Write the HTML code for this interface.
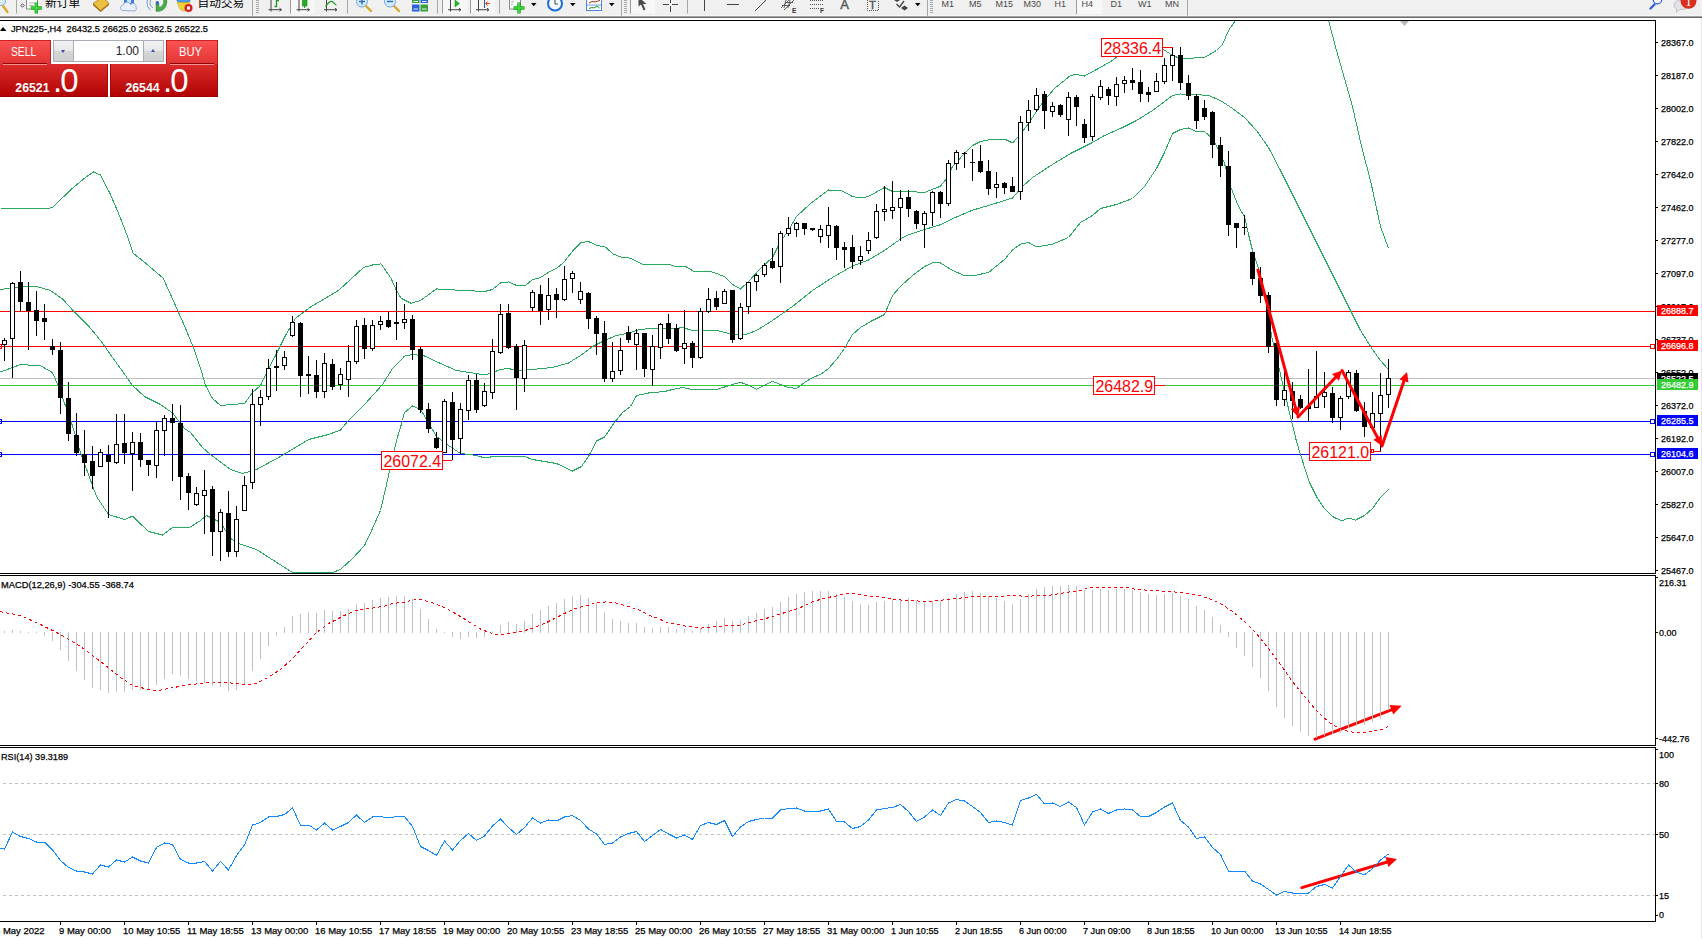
<!DOCTYPE html>
<html><head><meta charset="utf-8"><title>JPN225 H4</title>
<style>
html,body{margin:0;padding:0;background:#fff}
body{width:1702px;height:939px;overflow:hidden;position:relative;font-family:"Liberation Sans","Noto Sans CJK SC",sans-serif}
#tb{position:absolute;left:0;top:0;width:1702px;height:16px;background:linear-gradient(#f0f0f0 0,#f0f0f0 15px,#f7f7f7 15px,#f7f7f7 16px);overflow:hidden;border-bottom:1px solid #a3a3a3}
#tb2{position:absolute;left:0;top:17px;width:1702px;height:1px;background:#6a6a6a}
#tb span.t{position:absolute;font-size:9px;color:#4a4a4a;top:-1.5px;white-space:pre}
#tb span.c{position:absolute;font-size:11.7px;color:#000;white-space:pre;top:-4.5px;line-height:14px}
#tb i{position:absolute;display:block}
#oc{position:absolute;left:0;top:40px;width:218px;height:57px;background:#fff}
#oc div{position:absolute}
#oc .r{background:linear-gradient(#fa5252,#e23434);color:#fff;box-sizing:border-box;border-top:1px solid #cc2222}
#oc .p{background:linear-gradient(#dc2c2c,#b20404);color:#fff;box-sizing:border-box;border-bottom:1px solid #a00000}

</style></head><body>
<svg width="1702" height="939" viewBox="0 0 1702 939" style="position:absolute;left:0;top:0" font-family="'Liberation Sans', sans-serif"><defs><clipPath id="cm"><rect x="0" y="21" width="1655" height="552"/></clipPath></defs>
<g shape-rendering="crispEdges">
<rect x="0" y="311" width="1655" height="1" fill="#ff0000"/>
<rect x="0" y="346" width="1655" height="1" fill="#ff0000"/>
<rect x="0" y="378" width="1655" height="1" fill="#c0c0c0"/>
<rect x="0" y="385" width="1655" height="1" fill="#32cd32"/>
<rect x="0" y="421" width="1655" height="1" fill="#0000ff"/>
<rect x="0" y="454" width="1655" height="1" fill="#0000ff"/>
</g>
<g clip-path="url(#cm)" shape-rendering="crispEdges">
<polyline points="0.5,208.5 47.5,208.5 52.5,207.5 70.5,190 85.5,177.5 93.5,172 100.5,175 110.5,194.5 120.5,218.1 128.1,238.1 133.1,253.1 145.5,263.1 163.2,278.2 175.5,305.5 185.5,328.2 194.5,350.5 200.5,368.2 205.5,385.5 212.5,398.5 220.5,405.5 232.5,404.5 244.5,403.5 252.5,392.5 260.5,385.5 268.5,368.5 275.5,355.5 285.5,335.5 295.5,318.2 310.5,306.9 325.5,298.2 338.5,290.5 350.5,279.5 363.5,267.5 372.5,265 381,263.9 391,278.1 396.5,290.5 401,298.2 411,303.2 420.5,300.5 436.5,288.9 456.5,290.1 484.5,291.5 492.5,289.5 500.5,282.9 508.5,281.9 516.5,285.5 525.2,285.7 532.3,279.8 540.5,277.5 548.7,272.2 556.9,268.1 564,262.2 572.2,251.5 581,242.5 588.5,241.5 596.9,245.5 605.1,246.9 613.3,254 620.5,256.9 629.8,258.1 643.9,264.9 670.9,264.9 676.8,266.9 686.2,266.9 693.2,271 703.8,271 712.5,272.1 724.5,276.5 732.5,284.5 740.5,289 748.5,281.5 760.5,268.5 772.5,257.5 780.5,241.5 788.5,230.5 796.5,216.5 810.5,203.5 828.5,190 840.5,190.2 852.5,196.5 860.5,198 868.5,196.5 884.5,187.5 892.5,191.5 908.5,191.5 924.5,192.5 940.5,186.2 946.5,178.5 952.5,166.5 964.5,153.5 972.5,145.5 980.5,141.5 992.5,139.1 1004.5,139.1 1012.5,142.9 1020.5,134.5 1030.5,120.5 1042.5,102.5 1054.5,88.5 1070.5,75.5 1076.5,74.5 1084.5,76 1096.5,69.5 1112.5,60.5 1124.5,50.5 1136.5,45.5 1148.5,44 1156.5,45.5 1164.5,50.1 1172.5,55.5 1180.5,58.5 1192.5,58.1 1204.5,57.5 1216.5,50.5 1222.5,44.5 1228.5,30.5 1235.5,20.5" fill="none" stroke="#27aa5f" stroke-width="1"/>
<polyline points="1328.5,20.5 1336.5,50.5 1352.5,106.5 1362.5,150.5 1370.5,180.5 1380.5,226.5 1388.5,248.5" fill="none" stroke="#27aa5f" stroke-width="1"/>
<polyline points="0.5,289.5 20.5,286.9 38,286.9 50.5,290.5 63.1,299.5 75.5,313.2 88.1,325.5 100.5,340.5 113.1,358.3 120.5,368.5 132.5,385.5 144.5,396.5 160.5,404.5 172.5,413 184.5,428.5 190.5,432.5 202.5,447.5 210.5,454.5 230.5,469.5 242.5,473.5 256.5,469.5 280.5,456.5 308.5,439.5 328.5,434.5 340.5,430 348.5,420.5 364.5,404.5 382.5,384.5 392.5,368.5 404.5,356.2 412.5,354.5 424.5,356 440.5,363.5 456.5,370.5 472.5,373 484.5,375 492.5,372.5 500.5,369.5 508.5,368.5 516.5,370.5 532.5,369.5 552.5,367.5 568.5,363 580.5,355.5 592.5,346.5 604.5,340.5 616.5,335.5 628.5,333 640.5,329.2 656.5,328.5 676.5,328.5 682.5,327.5 692.5,330.5 716.5,330.5 732.5,334.2 744.5,335 756.5,330.5 772.5,320.5 792.5,306.5 812.5,290.5 832.5,277.5 852.5,266 868.5,260 884.5,250.5 900.5,239 908.5,234.8 924.5,229.5 940.5,224.7 956.5,217 972.5,210.2 988.5,205.5 1012.5,198 1022.5,186.5 1032.5,177.5 1052.5,164.5 1072.5,152.5 1092.5,142.5 1104.5,135.5 1120.5,128.5 1136.5,120.5 1152.5,110.5 1164.5,101.5 1172.5,95.5 1180.5,94 1192.5,94.2 1208.5,95.5 1220.5,100.5 1232.5,108.5 1244.5,117.5 1256.5,130.5 1268.5,147.5 1280.5,170.5 1292.5,194.5 1308.5,226.5 1324.5,258.5 1340.5,290.5 1352.5,314.5 1360.5,330.5 1372.5,349.5 1380.5,360.5 1388.5,369.5" fill="none" stroke="#27aa5f" stroke-width="1"/>
<polyline points="0.5,372 20.5,364.5 40.5,365.8 52.5,372.5 58.5,386.5 66.5,408.5 70.5,419.5 80.5,452.5 88.5,474.5 96.5,496.5 108.5,514.5 124.5,519.5 132.5,516.2 148.5,531.5 162.5,535 172.5,527.5 190.5,527 200.5,520.5 206.5,515.5 220.5,522.5 230.5,538.5 240.5,544.2 256.5,549.5 270.5,558.5 292.5,572.5 332.5,572.5 340.5,569.5 352.5,558.5 364.5,545.5 372.5,528.5 380.5,510.5 386.5,484.5 390.5,466.5 396.5,440.5 402.5,420.5 404.5,412.5 412.5,406 420.5,409.5 428.5,422.5 436.5,436.5 448.5,445.5 460.5,453.5 476.5,455.5 484.5,457.9 496.5,456.1 524.5,456.5 532.5,459.5 556.5,463.5 572.5,471 581.5,466.5 588.5,456.5 596.5,441 604.5,437 614.5,422.5 622.5,412.5 630.5,406.5 636.5,395.5 648.5,393 664.5,391.5 672.5,389.5 682.5,387.5 692.5,389.5 716.5,389.5 732.5,384.5 740.5,382.3 748.5,385.1 756.5,389.1 764.5,385.5 772.5,381.3 780.5,384.5 788.5,387.5 796.5,388.5 804.5,382.5 812.5,377.5 820.5,374.5 828.5,368.5 836.5,359.5 844.5,348.5 852.5,334.5 860.5,327.5 872.5,320.5 884.5,314.5 892.5,295.5 900.5,286.5 912.5,275.5 924.5,266.5 932.5,262.8 940.5,263 952.5,270.5 964.5,275.5 976.5,275.1 988.5,272.5 1004.5,259.5 1012.5,250 1020.5,244.2 1028.5,242.5 1036.5,247 1052.5,244.2 1068.5,237.5 1080.5,222.5 1092.5,215.5 1100.5,208.5 1116.5,204.5 1132.5,198.5 1144.5,186.5 1156.5,168.5 1164.5,152.5 1172.5,133.5 1180.5,129.5 1188.5,128 1196.5,131.5 1204.5,131.5 1212.5,138.5 1216.5,145.5 1224.5,163.5 1230.5,186.5 1238.5,206.5 1244.5,216.5 1248.5,234.5 1252.5,250.5 1258.5,268.5 1266.5,304.5 1271.5,335.5 1280.5,374.5 1288.5,408.5 1296.5,441.5 1300.5,454.5 1305.5,470.5 1309.5,482.5 1317.5,498.5 1324.5,508.5 1332.5,516.5 1341.5,520.9 1346.5,518.8 1351.5,518.8 1355.5,520.1 1364.5,515.5 1372.5,508.5 1380.5,497.5 1388.5,489.5" fill="none" stroke="#27aa5f" stroke-width="1"/>
</g>
<g shape-rendering="crispEdges">
<rect x="4" y="338" width="1" height="23" fill="#000"/>
<rect x="2" y="340" width="5" height="5" fill="#000"/>
<rect x="3" y="341" width="3" height="3" fill="#fff"/>
<rect x="12" y="282" width="1" height="96" fill="#000"/>
<rect x="10" y="283" width="5" height="56" fill="#000"/>
<rect x="11" y="284" width="3" height="54" fill="#fff"/>
<rect x="20" y="271" width="1" height="41" fill="#000"/>
<rect x="18" y="282" width="5" height="20" fill="#000"/>
<rect x="28" y="282" width="1" height="68" fill="#000"/>
<rect x="26" y="302" width="5" height="9" fill="#000"/>
<rect x="36" y="291" width="1" height="45" fill="#000"/>
<rect x="34" y="310" width="5" height="11" fill="#000"/>
<rect x="44" y="304" width="1" height="36" fill="#000"/>
<rect x="42" y="318" width="5" height="4" fill="#000"/>
<rect x="52" y="339" width="1" height="16" fill="#000"/>
<rect x="50" y="346" width="5" height="4" fill="#000"/>
<rect x="60" y="342" width="1" height="72" fill="#000"/>
<rect x="58" y="350" width="5" height="48" fill="#000"/>
<rect x="68" y="382" width="1" height="59" fill="#000"/>
<rect x="66" y="398" width="5" height="36" fill="#000"/>
<rect x="76" y="413" width="1" height="43" fill="#000"/>
<rect x="74" y="435" width="5" height="18" fill="#000"/>
<rect x="84" y="430" width="1" height="46" fill="#000"/>
<rect x="82" y="454" width="5" height="9" fill="#000"/>
<rect x="92" y="446" width="1" height="43" fill="#000"/>
<rect x="90" y="461" width="5" height="15" fill="#000"/>
<rect x="100" y="449" width="1" height="18" fill="#000"/>
<rect x="98" y="452" width="5" height="15" fill="#000"/>
<rect x="99" y="453" width="3" height="13" fill="#fff"/>
<rect x="108" y="445" width="1" height="73" fill="#000"/>
<rect x="106" y="455" width="5" height="7" fill="#000"/>
<rect x="116" y="414" width="1" height="50" fill="#000"/>
<rect x="114" y="444" width="5" height="19" fill="#000"/>
<rect x="115" y="445" width="3" height="17" fill="#fff"/>
<rect x="124" y="414" width="1" height="50" fill="#000"/>
<rect x="122" y="443" width="5" height="10" fill="#000"/>
<rect x="132" y="432" width="1" height="59" fill="#000"/>
<rect x="130" y="442" width="5" height="12" fill="#000"/>
<rect x="131" y="443" width="3" height="10" fill="#fff"/>
<rect x="140" y="433" width="1" height="34" fill="#000"/>
<rect x="138" y="442" width="5" height="18" fill="#000"/>
<rect x="148" y="460" width="1" height="16" fill="#000"/>
<rect x="146" y="460" width="5" height="5" fill="#000"/>
<rect x="156" y="421" width="1" height="57" fill="#000"/>
<rect x="154" y="430" width="5" height="36" fill="#000"/>
<rect x="155" y="431" width="3" height="34" fill="#fff"/>
<rect x="164" y="415" width="1" height="41" fill="#000"/>
<rect x="162" y="418" width="5" height="13" fill="#000"/>
<rect x="163" y="419" width="3" height="11" fill="#fff"/>
<rect x="172" y="404" width="1" height="77" fill="#000"/>
<rect x="170" y="418" width="5" height="5" fill="#000"/>
<rect x="180" y="405" width="1" height="95" fill="#000"/>
<rect x="178" y="423" width="5" height="54" fill="#000"/>
<rect x="188" y="473" width="1" height="37" fill="#000"/>
<rect x="186" y="476" width="5" height="17" fill="#000"/>
<rect x="196" y="487" width="1" height="19" fill="#000"/>
<rect x="194" y="493" width="5" height="12" fill="#000"/>
<rect x="195" y="494" width="3" height="10" fill="#fff"/>
<rect x="204" y="470" width="1" height="64" fill="#000"/>
<rect x="202" y="490" width="5" height="6" fill="#000"/>
<rect x="203" y="491" width="3" height="4" fill="#fff"/>
<rect x="212" y="486" width="1" height="70" fill="#000"/>
<rect x="210" y="489" width="5" height="43" fill="#000"/>
<rect x="220" y="509" width="1" height="52" fill="#000"/>
<rect x="218" y="512" width="5" height="20" fill="#000"/>
<rect x="219" y="513" width="3" height="18" fill="#fff"/>
<rect x="228" y="491" width="1" height="66" fill="#000"/>
<rect x="226" y="513" width="5" height="39" fill="#000"/>
<rect x="236" y="506" width="1" height="51" fill="#000"/>
<rect x="234" y="519" width="5" height="33" fill="#000"/>
<rect x="235" y="520" width="3" height="31" fill="#fff"/>
<rect x="244" y="476" width="1" height="35" fill="#000"/>
<rect x="242" y="485" width="5" height="26" fill="#000"/>
<rect x="243" y="486" width="3" height="24" fill="#fff"/>
<rect x="252" y="389" width="1" height="100" fill="#000"/>
<rect x="250" y="404" width="5" height="79" fill="#000"/>
<rect x="251" y="405" width="3" height="77" fill="#fff"/>
<rect x="260" y="390" width="1" height="36" fill="#000"/>
<rect x="258" y="397" width="5" height="8" fill="#000"/>
<rect x="259" y="398" width="3" height="6" fill="#fff"/>
<rect x="268" y="359" width="1" height="41" fill="#000"/>
<rect x="266" y="368" width="5" height="29" fill="#000"/>
<rect x="267" y="369" width="3" height="27" fill="#fff"/>
<rect x="276" y="350" width="1" height="41" fill="#000"/>
<rect x="274" y="366" width="5" height="2" fill="#000"/>
<rect x="284" y="351" width="1" height="19" fill="#000"/>
<rect x="282" y="357" width="5" height="9" fill="#000"/>
<rect x="283" y="358" width="3" height="7" fill="#fff"/>
<rect x="292" y="316" width="1" height="21" fill="#000"/>
<rect x="290" y="322" width="5" height="14" fill="#000"/>
<rect x="291" y="323" width="3" height="12" fill="#fff"/>
<rect x="300" y="322" width="1" height="75" fill="#000"/>
<rect x="298" y="323" width="5" height="53" fill="#000"/>
<rect x="308" y="356" width="1" height="38" fill="#000"/>
<rect x="306" y="374" width="5" height="2" fill="#000"/>
<rect x="316" y="360" width="1" height="38" fill="#000"/>
<rect x="314" y="375" width="5" height="17" fill="#000"/>
<rect x="324" y="353" width="1" height="45" fill="#000"/>
<rect x="322" y="363" width="5" height="29" fill="#000"/>
<rect x="323" y="364" width="3" height="27" fill="#fff"/>
<rect x="332" y="359" width="1" height="31" fill="#000"/>
<rect x="330" y="364" width="5" height="23" fill="#000"/>
<rect x="340" y="368" width="1" height="22" fill="#000"/>
<rect x="338" y="374" width="5" height="11" fill="#000"/>
<rect x="339" y="375" width="3" height="9" fill="#fff"/>
<rect x="348" y="345" width="1" height="52" fill="#000"/>
<rect x="346" y="361" width="5" height="19" fill="#000"/>
<rect x="347" y="362" width="3" height="17" fill="#fff"/>
<rect x="356" y="320" width="1" height="44" fill="#000"/>
<rect x="354" y="326" width="5" height="36" fill="#000"/>
<rect x="355" y="327" width="3" height="34" fill="#fff"/>
<rect x="364" y="318" width="1" height="41" fill="#000"/>
<rect x="362" y="325" width="5" height="24" fill="#000"/>
<rect x="372" y="320" width="1" height="31" fill="#000"/>
<rect x="370" y="325" width="5" height="24" fill="#000"/>
<rect x="371" y="326" width="3" height="22" fill="#fff"/>
<rect x="380" y="316" width="1" height="14" fill="#000"/>
<rect x="378" y="321" width="5" height="4" fill="#000"/>
<rect x="379" y="322" width="3" height="2" fill="#fff"/>
<rect x="388" y="312" width="1" height="16" fill="#000"/>
<rect x="386" y="320" width="5" height="7" fill="#000"/>
<rect x="396" y="282" width="1" height="58" fill="#000"/>
<rect x="394" y="322" width="5" height="2" fill="#000"/>
<rect x="404" y="304" width="1" height="25" fill="#000"/>
<rect x="402" y="319" width="5" height="4" fill="#000"/>
<rect x="403" y="320" width="3" height="2" fill="#fff"/>
<rect x="412" y="315" width="1" height="45" fill="#000"/>
<rect x="410" y="319" width="5" height="31" fill="#000"/>
<rect x="420" y="347" width="1" height="66" fill="#000"/>
<rect x="418" y="349" width="5" height="61" fill="#000"/>
<rect x="428" y="403" width="1" height="30" fill="#000"/>
<rect x="426" y="409" width="5" height="20" fill="#000"/>
<rect x="436" y="432" width="1" height="17" fill="#000"/>
<rect x="434" y="438" width="5" height="10" fill="#000"/>
<rect x="444" y="399" width="1" height="54" fill="#000"/>
<rect x="442" y="401" width="5" height="52" fill="#000"/>
<rect x="443" y="402" width="3" height="50" fill="#fff"/>
<rect x="452" y="392" width="1" height="68" fill="#000"/>
<rect x="450" y="402" width="5" height="38" fill="#000"/>
<rect x="460" y="403" width="1" height="51" fill="#000"/>
<rect x="458" y="409" width="5" height="30" fill="#000"/>
<rect x="459" y="410" width="3" height="28" fill="#fff"/>
<rect x="468" y="375" width="1" height="45" fill="#000"/>
<rect x="466" y="380" width="5" height="31" fill="#000"/>
<rect x="467" y="381" width="3" height="29" fill="#fff"/>
<rect x="476" y="374" width="1" height="39" fill="#000"/>
<rect x="474" y="380" width="5" height="30" fill="#000"/>
<rect x="484" y="383" width="1" height="24" fill="#000"/>
<rect x="482" y="391" width="5" height="15" fill="#000"/>
<rect x="483" y="392" width="3" height="13" fill="#fff"/>
<rect x="492" y="339" width="1" height="60" fill="#000"/>
<rect x="490" y="351" width="5" height="42" fill="#000"/>
<rect x="491" y="352" width="3" height="40" fill="#fff"/>
<rect x="500" y="304" width="1" height="50" fill="#000"/>
<rect x="498" y="314" width="5" height="39" fill="#000"/>
<rect x="499" y="315" width="3" height="37" fill="#fff"/>
<rect x="508" y="304" width="1" height="45" fill="#000"/>
<rect x="506" y="313" width="5" height="35" fill="#000"/>
<rect x="516" y="344" width="1" height="66" fill="#000"/>
<rect x="514" y="346" width="5" height="32" fill="#000"/>
<rect x="524" y="340" width="1" height="52" fill="#000"/>
<rect x="522" y="345" width="5" height="34" fill="#000"/>
<rect x="523" y="346" width="3" height="32" fill="#fff"/>
<rect x="532" y="290" width="1" height="21" fill="#000"/>
<rect x="530" y="292" width="5" height="16" fill="#000"/>
<rect x="531" y="293" width="3" height="14" fill="#fff"/>
<rect x="540" y="285" width="1" height="40" fill="#000"/>
<rect x="538" y="294" width="5" height="17" fill="#000"/>
<rect x="548" y="278" width="1" height="42" fill="#000"/>
<rect x="546" y="295" width="5" height="15" fill="#000"/>
<rect x="547" y="296" width="3" height="13" fill="#fff"/>
<rect x="556" y="288" width="1" height="30" fill="#000"/>
<rect x="554" y="294" width="5" height="6" fill="#000"/>
<rect x="564" y="266" width="1" height="35" fill="#000"/>
<rect x="562" y="279" width="5" height="21" fill="#000"/>
<rect x="563" y="280" width="3" height="19" fill="#fff"/>
<rect x="572" y="271" width="1" height="22" fill="#000"/>
<rect x="570" y="273" width="5" height="6" fill="#000"/>
<rect x="571" y="274" width="3" height="4" fill="#fff"/>
<rect x="580" y="282" width="1" height="22" fill="#000"/>
<rect x="578" y="291" width="5" height="9" fill="#000"/>
<rect x="579" y="292" width="3" height="7" fill="#fff"/>
<rect x="588" y="292" width="1" height="37" fill="#000"/>
<rect x="586" y="293" width="5" height="26" fill="#000"/>
<rect x="596" y="316" width="1" height="39" fill="#000"/>
<rect x="594" y="318" width="5" height="16" fill="#000"/>
<rect x="604" y="321" width="1" height="61" fill="#000"/>
<rect x="602" y="333" width="5" height="46" fill="#000"/>
<rect x="612" y="342" width="1" height="40" fill="#000"/>
<rect x="610" y="371" width="5" height="8" fill="#000"/>
<rect x="611" y="372" width="3" height="6" fill="#fff"/>
<rect x="620" y="338" width="1" height="37" fill="#000"/>
<rect x="618" y="350" width="5" height="21" fill="#000"/>
<rect x="619" y="351" width="3" height="19" fill="#fff"/>
<rect x="628" y="326" width="1" height="17" fill="#000"/>
<rect x="626" y="332" width="5" height="8" fill="#000"/>
<rect x="636" y="329" width="1" height="41" fill="#000"/>
<rect x="634" y="333" width="5" height="12" fill="#000"/>
<rect x="635" y="334" width="3" height="10" fill="#fff"/>
<rect x="644" y="333" width="1" height="44" fill="#000"/>
<rect x="642" y="333" width="5" height="36" fill="#000"/>
<rect x="652" y="335" width="1" height="51" fill="#000"/>
<rect x="650" y="346" width="5" height="24" fill="#000"/>
<rect x="651" y="347" width="3" height="22" fill="#fff"/>
<rect x="660" y="323" width="1" height="36" fill="#000"/>
<rect x="658" y="324" width="5" height="24" fill="#000"/>
<rect x="659" y="325" width="3" height="22" fill="#fff"/>
<rect x="668" y="314" width="1" height="30" fill="#000"/>
<rect x="666" y="323" width="5" height="16" fill="#000"/>
<rect x="676" y="324" width="1" height="28" fill="#000"/>
<rect x="674" y="328" width="5" height="23" fill="#000"/>
<rect x="684" y="310" width="1" height="54" fill="#000"/>
<rect x="682" y="343" width="5" height="6" fill="#000"/>
<rect x="683" y="344" width="3" height="4" fill="#fff"/>
<rect x="692" y="341" width="1" height="27" fill="#000"/>
<rect x="690" y="343" width="5" height="15" fill="#000"/>
<rect x="700" y="308" width="1" height="51" fill="#000"/>
<rect x="698" y="311" width="5" height="47" fill="#000"/>
<rect x="699" y="312" width="3" height="45" fill="#fff"/>
<rect x="708" y="288" width="1" height="25" fill="#000"/>
<rect x="706" y="299" width="5" height="13" fill="#000"/>
<rect x="707" y="300" width="3" height="11" fill="#fff"/>
<rect x="716" y="291" width="1" height="19" fill="#000"/>
<rect x="714" y="298" width="5" height="9" fill="#000"/>
<rect x="724" y="289" width="1" height="15" fill="#000"/>
<rect x="722" y="291" width="5" height="13" fill="#000"/>
<rect x="723" y="292" width="3" height="11" fill="#fff"/>
<rect x="732" y="290" width="1" height="53" fill="#000"/>
<rect x="730" y="290" width="5" height="50" fill="#000"/>
<rect x="740" y="303" width="1" height="37" fill="#000"/>
<rect x="738" y="307" width="5" height="32" fill="#000"/>
<rect x="739" y="308" width="3" height="30" fill="#fff"/>
<rect x="748" y="282" width="1" height="32" fill="#000"/>
<rect x="746" y="282" width="5" height="25" fill="#000"/>
<rect x="747" y="283" width="3" height="23" fill="#fff"/>
<rect x="756" y="274" width="1" height="17" fill="#000"/>
<rect x="754" y="275" width="5" height="7" fill="#000"/>
<rect x="755" y="276" width="3" height="5" fill="#fff"/>
<rect x="764" y="263" width="1" height="14" fill="#000"/>
<rect x="762" y="265" width="5" height="10" fill="#000"/>
<rect x="763" y="266" width="3" height="8" fill="#fff"/>
<rect x="772" y="248" width="1" height="21" fill="#000"/>
<rect x="770" y="261" width="5" height="7" fill="#000"/>
<rect x="780" y="231" width="1" height="52" fill="#000"/>
<rect x="778" y="233" width="5" height="34" fill="#000"/>
<rect x="779" y="234" width="3" height="32" fill="#fff"/>
<rect x="788" y="217" width="1" height="19" fill="#000"/>
<rect x="786" y="228" width="5" height="6" fill="#000"/>
<rect x="787" y="229" width="3" height="4" fill="#fff"/>
<rect x="796" y="222" width="1" height="15" fill="#000"/>
<rect x="794" y="223" width="5" height="7" fill="#000"/>
<rect x="795" y="224" width="3" height="5" fill="#fff"/>
<rect x="804" y="223" width="1" height="12" fill="#000"/>
<rect x="802" y="223" width="5" height="6" fill="#000"/>
<rect x="812" y="228" width="1" height="3" fill="#000"/>
<rect x="810" y="228" width="5" height="2" fill="#000"/>
<rect x="820" y="225" width="1" height="18" fill="#000"/>
<rect x="818" y="229" width="5" height="8" fill="#000"/>
<rect x="819" y="230" width="3" height="6" fill="#fff"/>
<rect x="828" y="207" width="1" height="41" fill="#000"/>
<rect x="826" y="225" width="5" height="11" fill="#000"/>
<rect x="827" y="226" width="3" height="9" fill="#fff"/>
<rect x="836" y="225" width="1" height="35" fill="#000"/>
<rect x="834" y="226" width="5" height="22" fill="#000"/>
<rect x="844" y="242" width="1" height="26" fill="#000"/>
<rect x="842" y="247" width="5" height="3" fill="#000"/>
<rect x="852" y="235" width="1" height="34" fill="#000"/>
<rect x="850" y="247" width="5" height="15" fill="#000"/>
<rect x="860" y="246" width="1" height="19" fill="#000"/>
<rect x="858" y="256" width="5" height="5" fill="#000"/>
<rect x="859" y="257" width="3" height="3" fill="#fff"/>
<rect x="868" y="232" width="1" height="22" fill="#000"/>
<rect x="866" y="240" width="5" height="11" fill="#000"/>
<rect x="867" y="241" width="3" height="9" fill="#fff"/>
<rect x="876" y="204" width="1" height="35" fill="#000"/>
<rect x="874" y="211" width="5" height="27" fill="#000"/>
<rect x="875" y="212" width="3" height="25" fill="#fff"/>
<rect x="884" y="186" width="1" height="35" fill="#000"/>
<rect x="882" y="209" width="5" height="3" fill="#000"/>
<rect x="883" y="210" width="3" height="1" fill="#fff"/>
<rect x="892" y="181" width="1" height="38" fill="#000"/>
<rect x="890" y="207" width="5" height="4" fill="#000"/>
<rect x="891" y="208" width="3" height="2" fill="#fff"/>
<rect x="900" y="190" width="1" height="51" fill="#000"/>
<rect x="898" y="198" width="5" height="10" fill="#000"/>
<rect x="899" y="199" width="3" height="8" fill="#fff"/>
<rect x="908" y="190" width="1" height="27" fill="#000"/>
<rect x="906" y="197" width="5" height="12" fill="#000"/>
<rect x="916" y="210" width="1" height="19" fill="#000"/>
<rect x="914" y="211" width="5" height="13" fill="#000"/>
<rect x="924" y="211" width="1" height="37" fill="#000"/>
<rect x="922" y="213" width="5" height="12" fill="#000"/>
<rect x="923" y="214" width="3" height="10" fill="#fff"/>
<rect x="932" y="191" width="1" height="35" fill="#000"/>
<rect x="930" y="192" width="5" height="21" fill="#000"/>
<rect x="931" y="193" width="3" height="19" fill="#fff"/>
<rect x="940" y="191" width="1" height="27" fill="#000"/>
<rect x="938" y="192" width="5" height="12" fill="#000"/>
<rect x="948" y="160" width="1" height="46" fill="#000"/>
<rect x="946" y="163" width="5" height="41" fill="#000"/>
<rect x="947" y="164" width="3" height="39" fill="#fff"/>
<rect x="956" y="150" width="1" height="20" fill="#000"/>
<rect x="954" y="152" width="5" height="12" fill="#000"/>
<rect x="955" y="153" width="3" height="10" fill="#fff"/>
<rect x="964" y="152" width="1" height="16" fill="#000"/>
<rect x="962" y="153" width="5" height="1" fill="#000"/>
<rect x="972" y="149" width="1" height="32" fill="#000"/>
<rect x="970" y="162" width="5" height="1" fill="#000"/>
<rect x="980" y="145" width="1" height="28" fill="#000"/>
<rect x="978" y="161" width="5" height="11" fill="#000"/>
<rect x="988" y="160" width="1" height="35" fill="#000"/>
<rect x="986" y="171" width="5" height="18" fill="#000"/>
<rect x="996" y="172" width="1" height="26" fill="#000"/>
<rect x="994" y="184" width="5" height="4" fill="#000"/>
<rect x="995" y="185" width="3" height="2" fill="#fff"/>
<rect x="1004" y="182" width="1" height="12" fill="#000"/>
<rect x="1002" y="183" width="5" height="5" fill="#000"/>
<rect x="1012" y="177" width="1" height="15" fill="#000"/>
<rect x="1010" y="186" width="5" height="6" fill="#000"/>
<rect x="1020" y="116" width="1" height="84" fill="#000"/>
<rect x="1018" y="122" width="5" height="70" fill="#000"/>
<rect x="1019" y="123" width="3" height="68" fill="#fff"/>
<rect x="1028" y="100" width="1" height="31" fill="#000"/>
<rect x="1026" y="110" width="5" height="13" fill="#000"/>
<rect x="1027" y="111" width="3" height="11" fill="#fff"/>
<rect x="1036" y="88" width="1" height="24" fill="#000"/>
<rect x="1034" y="95" width="5" height="15" fill="#000"/>
<rect x="1035" y="96" width="3" height="13" fill="#fff"/>
<rect x="1044" y="91" width="1" height="38" fill="#000"/>
<rect x="1042" y="94" width="5" height="17" fill="#000"/>
<rect x="1052" y="102" width="1" height="15" fill="#000"/>
<rect x="1050" y="106" width="5" height="6" fill="#000"/>
<rect x="1051" y="107" width="3" height="4" fill="#fff"/>
<rect x="1060" y="104" width="1" height="13" fill="#000"/>
<rect x="1058" y="105" width="5" height="10" fill="#000"/>
<rect x="1068" y="92" width="1" height="44" fill="#000"/>
<rect x="1066" y="97" width="5" height="23" fill="#000"/>
<rect x="1067" y="98" width="3" height="21" fill="#fff"/>
<rect x="1076" y="95" width="1" height="31" fill="#000"/>
<rect x="1074" y="97" width="5" height="10" fill="#000"/>
<rect x="1084" y="119" width="1" height="24" fill="#000"/>
<rect x="1082" y="124" width="5" height="14" fill="#000"/>
<rect x="1092" y="94" width="1" height="47" fill="#000"/>
<rect x="1090" y="96" width="5" height="41" fill="#000"/>
<rect x="1091" y="97" width="3" height="39" fill="#fff"/>
<rect x="1100" y="80" width="1" height="20" fill="#000"/>
<rect x="1098" y="86" width="5" height="12" fill="#000"/>
<rect x="1099" y="87" width="3" height="10" fill="#fff"/>
<rect x="1108" y="87" width="1" height="18" fill="#000"/>
<rect x="1106" y="89" width="5" height="7" fill="#000"/>
<rect x="1116" y="77" width="1" height="29" fill="#000"/>
<rect x="1114" y="84" width="5" height="13" fill="#000"/>
<rect x="1115" y="85" width="3" height="11" fill="#fff"/>
<rect x="1124" y="76" width="1" height="17" fill="#000"/>
<rect x="1122" y="80" width="5" height="4" fill="#000"/>
<rect x="1123" y="81" width="3" height="2" fill="#fff"/>
<rect x="1132" y="68" width="1" height="22" fill="#000"/>
<rect x="1130" y="80" width="5" height="3" fill="#000"/>
<rect x="1140" y="70" width="1" height="32" fill="#000"/>
<rect x="1138" y="82" width="5" height="12" fill="#000"/>
<rect x="1148" y="87" width="1" height="15" fill="#000"/>
<rect x="1146" y="92" width="5" height="3" fill="#000"/>
<rect x="1156" y="73" width="1" height="19" fill="#000"/>
<rect x="1154" y="81" width="5" height="11" fill="#000"/>
<rect x="1155" y="82" width="3" height="9" fill="#fff"/>
<rect x="1164" y="58" width="1" height="26" fill="#000"/>
<rect x="1162" y="65" width="5" height="17" fill="#000"/>
<rect x="1163" y="66" width="3" height="15" fill="#fff"/>
<rect x="1172" y="47" width="1" height="34" fill="#000"/>
<rect x="1170" y="55" width="5" height="11" fill="#000"/>
<rect x="1171" y="56" width="3" height="9" fill="#fff"/>
<rect x="1180" y="47" width="1" height="43" fill="#000"/>
<rect x="1178" y="55" width="5" height="28" fill="#000"/>
<rect x="1188" y="75" width="1" height="25" fill="#000"/>
<rect x="1186" y="83" width="5" height="13" fill="#000"/>
<rect x="1196" y="94" width="1" height="35" fill="#000"/>
<rect x="1194" y="96" width="5" height="25" fill="#000"/>
<rect x="1204" y="100" width="1" height="20" fill="#000"/>
<rect x="1202" y="108" width="5" height="9" fill="#000"/>
<rect x="1212" y="111" width="1" height="47" fill="#000"/>
<rect x="1210" y="112" width="5" height="33" fill="#000"/>
<rect x="1220" y="137" width="1" height="40" fill="#000"/>
<rect x="1218" y="145" width="5" height="21" fill="#000"/>
<rect x="1228" y="151" width="1" height="85" fill="#000"/>
<rect x="1226" y="166" width="5" height="59" fill="#000"/>
<rect x="1236" y="223" width="1" height="25" fill="#000"/>
<rect x="1234" y="223" width="5" height="5" fill="#000"/>
<rect x="1244" y="215" width="1" height="20" fill="#000"/>
<rect x="1242" y="227" width="5" height="1" fill="#000"/>
<rect x="1252" y="252" width="1" height="33" fill="#000"/>
<rect x="1250" y="252" width="5" height="27" fill="#000"/>
<rect x="1260" y="267" width="1" height="36" fill="#000"/>
<rect x="1258" y="278" width="5" height="18" fill="#000"/>
<rect x="1268" y="292" width="1" height="61" fill="#000"/>
<rect x="1266" y="295" width="5" height="52" fill="#000"/>
<rect x="1276" y="343" width="1" height="63" fill="#000"/>
<rect x="1274" y="343" width="5" height="57" fill="#000"/>
<rect x="1284" y="370" width="1" height="36" fill="#000"/>
<rect x="1282" y="390" width="5" height="10" fill="#000"/>
<rect x="1283" y="391" width="3" height="8" fill="#fff"/>
<rect x="1292" y="382" width="1" height="37" fill="#000"/>
<rect x="1290" y="391" width="5" height="10" fill="#000"/>
<rect x="1300" y="395" width="1" height="14" fill="#000"/>
<rect x="1298" y="399" width="5" height="9" fill="#000"/>
<rect x="1308" y="369" width="1" height="53" fill="#000"/>
<rect x="1306" y="406" width="5" height="3" fill="#000"/>
<rect x="1316" y="351" width="1" height="57" fill="#000"/>
<rect x="1314" y="396" width="5" height="12" fill="#000"/>
<rect x="1315" y="397" width="3" height="10" fill="#fff"/>
<rect x="1324" y="372" width="1" height="36" fill="#000"/>
<rect x="1322" y="392" width="5" height="5" fill="#000"/>
<rect x="1323" y="393" width="3" height="3" fill="#fff"/>
<rect x="1332" y="387" width="1" height="36" fill="#000"/>
<rect x="1330" y="393" width="5" height="25" fill="#000"/>
<rect x="1340" y="396" width="1" height="34" fill="#000"/>
<rect x="1338" y="398" width="5" height="20" fill="#000"/>
<rect x="1339" y="399" width="3" height="18" fill="#fff"/>
<rect x="1348" y="370" width="1" height="29" fill="#000"/>
<rect x="1346" y="372" width="5" height="25" fill="#000"/>
<rect x="1347" y="373" width="3" height="23" fill="#fff"/>
<rect x="1356" y="370" width="1" height="42" fill="#000"/>
<rect x="1354" y="373" width="5" height="38" fill="#000"/>
<rect x="1364" y="402" width="1" height="35" fill="#000"/>
<rect x="1362" y="411" width="5" height="16" fill="#000"/>
<rect x="1372" y="392" width="1" height="36" fill="#000"/>
<rect x="1370" y="413" width="5" height="15" fill="#000"/>
<rect x="1371" y="414" width="3" height="13" fill="#fff"/>
<rect x="1380" y="373" width="1" height="78" fill="#000"/>
<rect x="1378" y="395" width="5" height="19" fill="#000"/>
<rect x="1379" y="396" width="3" height="17" fill="#fff"/>
<rect x="1388" y="359" width="1" height="49" fill="#000"/>
<rect x="1386" y="378" width="5" height="17" fill="#000"/>
<rect x="1387" y="379" width="3" height="15" fill="#fff"/>
</g>
<g shape-rendering="crispEdges">
<rect x="1650" y="344" width="5" height="5" fill="#f00"/>
<rect x="1651" y="345" width="3" height="3" fill="#fff"/>
<rect x="1650" y="419" width="5" height="5" fill="#00f"/>
<rect x="1651" y="420" width="3" height="3" fill="#fff"/>
<rect x="1650" y="452" width="5" height="5" fill="#00f"/>
<rect x="1651" y="453" width="3" height="3" fill="#fff"/>
<rect x="0" y="344" width="2" height="5" fill="#f00"/>
<rect x="0" y="345" width="1" height="1" fill="#fff"/>
<rect x="0" y="347" width="1" height="1" fill="#fff"/>
<rect x="0" y="419" width="2" height="5" fill="#00f"/>
<rect x="0" y="420" width="1" height="1" fill="#fff"/>
<rect x="0" y="422" width="1" height="1" fill="#fff"/>
<rect x="0" y="452" width="2" height="5" fill="#00f"/>
<rect x="0" y="453" width="1" height="1" fill="#fff"/>
<rect x="0" y="455" width="1" height="1" fill="#fff"/>
</g>
<line x1="1258" y1="270" x2="1296.03" y2="409.763" stroke="#f00" stroke-width="3" stroke-linecap="round"/>
<polygon points="1298,417 1290.87,409.094 1300.14,406.573" fill="#f00"/>
<line x1="1298" y1="417" x2="1336.85" y2="375.948" stroke="#f00" stroke-width="3" stroke-linecap="round"/>
<polygon points="1342,370.5 1338.96,380.7 1331.98,374.101" fill="#f00"/>
<line x1="1342" y1="370.5" x2="1378.49" y2="439.373" stroke="#f00" stroke-width="3" stroke-linecap="round"/>
<polygon points="1382,446 1373.31,439.853 1381.79,435.358" fill="#f00"/>
<line x1="1382" y1="446" x2="1404.6" y2="379.105" stroke="#f00" stroke-width="3" stroke-linecap="round"/>
<polygon points="1407,372 1408.51,382.537 1399.41,379.464" fill="#f00"/>
<line x1="1315" y1="739.2" x2="1393.3" y2="709.035" stroke="#f00" stroke-width="3" stroke-linecap="round"/>
<polygon points="1401.7,705.8 1393.3,714.607 1389.57,704.902" fill="#f00"/>
<line x1="1301.8" y1="887.6" x2="1388.86" y2="861.446" stroke="#f00" stroke-width="3" stroke-linecap="round"/>
<polygon points="1397,859 1388.44,867.001 1385.45,857.041" fill="#f00"/>
<g shape-rendering="crispEdges">
<rect x="1163" y="47" width="10" height="1" fill="#f00"/>
<rect x="443" y="460" width="9" height="1" fill="#f00"/>
<rect x="1155" y="385" width="10" height="1" fill="#f00"/>
<rect x="1371" y="451" width="10" height="1" fill="#f00"/>
</g>
<rect x="1101.5" y="38.5" width="61" height="18" fill="#fff" stroke="#f00" stroke-width="1" shape-rendering="crispEdges"/>
<text x="1132.3" y="53.7" font-size="16.5" fill="#f00" text-anchor="middle" font-weight="normal" textLength="57.6" lengthAdjust="spacingAndGlyphs">28336.4</text>
<rect x="381.5" y="451.5" width="61" height="18" fill="#fff" stroke="#f00" stroke-width="1" shape-rendering="crispEdges"/>
<text x="412.3" y="466.7" font-size="16.5" fill="#f00" text-anchor="middle" font-weight="normal" textLength="57.6" lengthAdjust="spacingAndGlyphs">26072.4</text>
<rect x="1093.5" y="376.5" width="61" height="18" fill="#fff" stroke="#f00" stroke-width="1" shape-rendering="crispEdges"/>
<text x="1124.3" y="391.7" font-size="16.5" fill="#f00" text-anchor="middle" font-weight="normal" textLength="57.6" lengthAdjust="spacingAndGlyphs">26482.9</text>
<rect x="1309.5" y="442.5" width="61" height="18" fill="#fff" stroke="#f00" stroke-width="1" shape-rendering="crispEdges"/>
<text x="1340.3" y="457.7" font-size="16.5" fill="#f00" text-anchor="middle" font-weight="normal" textLength="57.6" lengthAdjust="spacingAndGlyphs">26121.0</text>
<rect x="1371.5" y="449.5" width="2" height="3" fill="#fff" stroke="#f00" stroke-width="1" shape-rendering="crispEdges"/>
<g shape-rendering="crispEdges">
<rect x="4" y="631" width="1" height="2" fill="#c0c0c0"/>
<rect x="12" y="630" width="1" height="3" fill="#c0c0c0"/>
<rect x="20" y="631" width="1" height="2" fill="#c0c0c0"/>
<rect x="28" y="632" width="1" height="1" fill="#c0c0c0"/>
<rect x="36" y="632" width="1" height="1" fill="#c0c0c0"/>
<rect x="44" y="632" width="1" height="4" fill="#c0c0c0"/>
<rect x="52" y="632" width="1" height="9" fill="#c0c0c0"/>
<rect x="60" y="632" width="1" height="18" fill="#c0c0c0"/>
<rect x="68" y="632" width="1" height="29" fill="#c0c0c0"/>
<rect x="76" y="632" width="1" height="39" fill="#c0c0c0"/>
<rect x="84" y="632" width="1" height="48" fill="#c0c0c0"/>
<rect x="92" y="632" width="1" height="56" fill="#c0c0c0"/>
<rect x="100" y="632" width="1" height="58" fill="#c0c0c0"/>
<rect x="108" y="632" width="1" height="61" fill="#c0c0c0"/>
<rect x="116" y="632" width="1" height="60" fill="#c0c0c0"/>
<rect x="124" y="632" width="1" height="60" fill="#c0c0c0"/>
<rect x="132" y="632" width="1" height="58" fill="#c0c0c0"/>
<rect x="140" y="632" width="1" height="58" fill="#c0c0c0"/>
<rect x="148" y="632" width="1" height="58" fill="#c0c0c0"/>
<rect x="156" y="632" width="1" height="53" fill="#c0c0c0"/>
<rect x="164" y="632" width="1" height="47" fill="#c0c0c0"/>
<rect x="172" y="632" width="1" height="42" fill="#c0c0c0"/>
<rect x="180" y="632" width="1" height="44" fill="#c0c0c0"/>
<rect x="188" y="632" width="1" height="47" fill="#c0c0c0"/>
<rect x="196" y="632" width="1" height="49" fill="#c0c0c0"/>
<rect x="204" y="632" width="1" height="51" fill="#c0c0c0"/>
<rect x="212" y="632" width="1" height="54" fill="#c0c0c0"/>
<rect x="220" y="632" width="1" height="55" fill="#c0c0c0"/>
<rect x="228" y="632" width="1" height="59" fill="#c0c0c0"/>
<rect x="236" y="632" width="1" height="58" fill="#c0c0c0"/>
<rect x="244" y="632" width="1" height="53" fill="#c0c0c0"/>
<rect x="252" y="632" width="1" height="39" fill="#c0c0c0"/>
<rect x="260" y="632" width="1" height="27" fill="#c0c0c0"/>
<rect x="268" y="632" width="1" height="14" fill="#c0c0c0"/>
<rect x="276" y="632" width="1" height="4" fill="#c0c0c0"/>
<rect x="284" y="627" width="1" height="6" fill="#c0c0c0"/>
<rect x="292" y="616" width="1" height="17" fill="#c0c0c0"/>
<rect x="300" y="614" width="1" height="19" fill="#c0c0c0"/>
<rect x="308" y="612" width="1" height="21" fill="#c0c0c0"/>
<rect x="316" y="613" width="1" height="20" fill="#c0c0c0"/>
<rect x="324" y="610" width="1" height="23" fill="#c0c0c0"/>
<rect x="332" y="611" width="1" height="22" fill="#c0c0c0"/>
<rect x="340" y="611" width="1" height="22" fill="#c0c0c0"/>
<rect x="348" y="609" width="1" height="24" fill="#c0c0c0"/>
<rect x="356" y="604" width="1" height="29" fill="#c0c0c0"/>
<rect x="364" y="603" width="1" height="30" fill="#c0c0c0"/>
<rect x="372" y="600" width="1" height="33" fill="#c0c0c0"/>
<rect x="380" y="598" width="1" height="35" fill="#c0c0c0"/>
<rect x="388" y="597" width="1" height="36" fill="#c0c0c0"/>
<rect x="396" y="596" width="1" height="37" fill="#c0c0c0"/>
<rect x="404" y="596" width="1" height="37" fill="#c0c0c0"/>
<rect x="412" y="599" width="1" height="34" fill="#c0c0c0"/>
<rect x="420" y="609" width="1" height="24" fill="#c0c0c0"/>
<rect x="428" y="619" width="1" height="14" fill="#c0c0c0"/>
<rect x="436" y="629" width="1" height="4" fill="#c0c0c0"/>
<rect x="444" y="632" width="1" height="1" fill="#c0c0c0"/>
<rect x="452" y="632" width="1" height="5" fill="#c0c0c0"/>
<rect x="460" y="632" width="1" height="7" fill="#c0c0c0"/>
<rect x="468" y="632" width="1" height="5" fill="#c0c0c0"/>
<rect x="476" y="632" width="1" height="6" fill="#c0c0c0"/>
<rect x="484" y="632" width="1" height="5" fill="#c0c0c0"/>
<rect x="492" y="632" width="1" height="1" fill="#c0c0c0"/>
<rect x="500" y="625" width="1" height="8" fill="#c0c0c0"/>
<rect x="508" y="622" width="1" height="11" fill="#c0c0c0"/>
<rect x="516" y="624" width="1" height="9" fill="#c0c0c0"/>
<rect x="524" y="621" width="1" height="12" fill="#c0c0c0"/>
<rect x="532" y="614" width="1" height="19" fill="#c0c0c0"/>
<rect x="540" y="610" width="1" height="23" fill="#c0c0c0"/>
<rect x="548" y="606" width="1" height="27" fill="#c0c0c0"/>
<rect x="556" y="603" width="1" height="30" fill="#c0c0c0"/>
<rect x="564" y="599" width="1" height="34" fill="#c0c0c0"/>
<rect x="572" y="596" width="1" height="37" fill="#c0c0c0"/>
<rect x="580" y="595" width="1" height="38" fill="#c0c0c0"/>
<rect x="588" y="598" width="1" height="35" fill="#c0c0c0"/>
<rect x="596" y="603" width="1" height="30" fill="#c0c0c0"/>
<rect x="604" y="612" width="1" height="21" fill="#c0c0c0"/>
<rect x="612" y="619" width="1" height="14" fill="#c0c0c0"/>
<rect x="620" y="621" width="1" height="12" fill="#c0c0c0"/>
<rect x="628" y="623" width="1" height="10" fill="#c0c0c0"/>
<rect x="636" y="623" width="1" height="10" fill="#c0c0c0"/>
<rect x="644" y="627" width="1" height="6" fill="#c0c0c0"/>
<rect x="652" y="628" width="1" height="5" fill="#c0c0c0"/>
<rect x="660" y="627" width="1" height="6" fill="#c0c0c0"/>
<rect x="668" y="627" width="1" height="6" fill="#c0c0c0"/>
<rect x="676" y="629" width="1" height="4" fill="#c0c0c0"/>
<rect x="684" y="629" width="1" height="4" fill="#c0c0c0"/>
<rect x="692" y="631" width="1" height="2" fill="#c0c0c0"/>
<rect x="700" y="628" width="1" height="5" fill="#c0c0c0"/>
<rect x="708" y="624" width="1" height="9" fill="#c0c0c0"/>
<rect x="716" y="621" width="1" height="12" fill="#c0c0c0"/>
<rect x="724" y="618" width="1" height="15" fill="#c0c0c0"/>
<rect x="732" y="621" width="1" height="12" fill="#c0c0c0"/>
<rect x="740" y="620" width="1" height="13" fill="#c0c0c0"/>
<rect x="748" y="616" width="1" height="17" fill="#c0c0c0"/>
<rect x="756" y="613" width="1" height="20" fill="#c0c0c0"/>
<rect x="764" y="609" width="1" height="24" fill="#c0c0c0"/>
<rect x="772" y="607" width="1" height="26" fill="#c0c0c0"/>
<rect x="780" y="602" width="1" height="31" fill="#c0c0c0"/>
<rect x="788" y="597" width="1" height="36" fill="#c0c0c0"/>
<rect x="796" y="594" width="1" height="39" fill="#c0c0c0"/>
<rect x="804" y="592" width="1" height="41" fill="#c0c0c0"/>
<rect x="812" y="591" width="1" height="42" fill="#c0c0c0"/>
<rect x="820" y="591" width="1" height="42" fill="#c0c0c0"/>
<rect x="828" y="591" width="1" height="42" fill="#c0c0c0"/>
<rect x="836" y="594" width="1" height="39" fill="#c0c0c0"/>
<rect x="844" y="597" width="1" height="36" fill="#c0c0c0"/>
<rect x="852" y="601" width="1" height="32" fill="#c0c0c0"/>
<rect x="860" y="604" width="1" height="29" fill="#c0c0c0"/>
<rect x="868" y="605" width="1" height="28" fill="#c0c0c0"/>
<rect x="876" y="602" width="1" height="31" fill="#c0c0c0"/>
<rect x="884" y="601" width="1" height="32" fill="#c0c0c0"/>
<rect x="892" y="600" width="1" height="33" fill="#c0c0c0"/>
<rect x="900" y="599" width="1" height="34" fill="#c0c0c0"/>
<rect x="908" y="598" width="1" height="35" fill="#c0c0c0"/>
<rect x="916" y="601" width="1" height="32" fill="#c0c0c0"/>
<rect x="924" y="602" width="1" height="31" fill="#c0c0c0"/>
<rect x="932" y="601" width="1" height="32" fill="#c0c0c0"/>
<rect x="940" y="601" width="1" height="32" fill="#c0c0c0"/>
<rect x="948" y="598" width="1" height="35" fill="#c0c0c0"/>
<rect x="956" y="594" width="1" height="39" fill="#c0c0c0"/>
<rect x="964" y="592" width="1" height="41" fill="#c0c0c0"/>
<rect x="972" y="591" width="1" height="42" fill="#c0c0c0"/>
<rect x="980" y="593" width="1" height="40" fill="#c0c0c0"/>
<rect x="988" y="596" width="1" height="37" fill="#c0c0c0"/>
<rect x="996" y="598" width="1" height="35" fill="#c0c0c0"/>
<rect x="1004" y="601" width="1" height="32" fill="#c0c0c0"/>
<rect x="1012" y="604" width="1" height="29" fill="#c0c0c0"/>
<rect x="1020" y="599" width="1" height="34" fill="#c0c0c0"/>
<rect x="1028" y="594" width="1" height="39" fill="#c0c0c0"/>
<rect x="1036" y="589" width="1" height="44" fill="#c0c0c0"/>
<rect x="1044" y="587" width="1" height="46" fill="#c0c0c0"/>
<rect x="1052" y="586" width="1" height="47" fill="#c0c0c0"/>
<rect x="1060" y="586" width="1" height="47" fill="#c0c0c0"/>
<rect x="1068" y="585" width="1" height="48" fill="#c0c0c0"/>
<rect x="1076" y="586" width="1" height="47" fill="#c0c0c0"/>
<rect x="1084" y="590" width="1" height="43" fill="#c0c0c0"/>
<rect x="1092" y="590" width="1" height="43" fill="#c0c0c0"/>
<rect x="1100" y="589" width="1" height="44" fill="#c0c0c0"/>
<rect x="1108" y="590" width="1" height="43" fill="#c0c0c0"/>
<rect x="1116" y="589" width="1" height="44" fill="#c0c0c0"/>
<rect x="1124" y="589" width="1" height="44" fill="#c0c0c0"/>
<rect x="1132" y="590" width="1" height="43" fill="#c0c0c0"/>
<rect x="1140" y="592" width="1" height="41" fill="#c0c0c0"/>
<rect x="1148" y="594" width="1" height="39" fill="#c0c0c0"/>
<rect x="1156" y="595" width="1" height="38" fill="#c0c0c0"/>
<rect x="1164" y="594" width="1" height="39" fill="#c0c0c0"/>
<rect x="1172" y="593" width="1" height="40" fill="#c0c0c0"/>
<rect x="1180" y="596" width="1" height="37" fill="#c0c0c0"/>
<rect x="1188" y="599" width="1" height="34" fill="#c0c0c0"/>
<rect x="1196" y="606" width="1" height="27" fill="#c0c0c0"/>
<rect x="1204" y="610" width="1" height="23" fill="#c0c0c0"/>
<rect x="1212" y="617" width="1" height="16" fill="#c0c0c0"/>
<rect x="1220" y="625" width="1" height="8" fill="#c0c0c0"/>
<rect x="1228" y="632" width="1" height="5" fill="#c0c0c0"/>
<rect x="1236" y="632" width="1" height="16" fill="#c0c0c0"/>
<rect x="1244" y="632" width="1" height="24" fill="#c0c0c0"/>
<rect x="1252" y="632" width="1" height="35" fill="#c0c0c0"/>
<rect x="1260" y="632" width="1" height="46" fill="#c0c0c0"/>
<rect x="1268" y="632" width="1" height="59" fill="#c0c0c0"/>
<rect x="1276" y="632" width="1" height="75" fill="#c0c0c0"/>
<rect x="1284" y="632" width="1" height="86" fill="#c0c0c0"/>
<rect x="1292" y="632" width="1" height="94" fill="#c0c0c0"/>
<rect x="1300" y="632" width="1" height="100" fill="#c0c0c0"/>
<rect x="1308" y="632" width="1" height="104" fill="#c0c0c0"/>
<rect x="1316" y="632" width="1" height="106" fill="#c0c0c0"/>
<rect x="1324" y="632" width="1" height="104" fill="#c0c0c0"/>
<rect x="1332" y="632" width="1" height="102" fill="#c0c0c0"/>
<rect x="1340" y="632" width="1" height="101" fill="#c0c0c0"/>
<rect x="1348" y="632" width="1" height="96" fill="#c0c0c0"/>
<rect x="1356" y="632" width="1" height="94" fill="#c0c0c0"/>
<rect x="1364" y="632" width="1" height="93" fill="#c0c0c0"/>
<rect x="1372" y="632" width="1" height="90" fill="#c0c0c0"/>
<rect x="1380" y="632" width="1" height="87" fill="#c0c0c0"/>
<rect x="1388" y="632" width="1" height="78" fill="#c0c0c0"/>
</g>
<polyline points="0.5,611.5 2.5,612.1 20.5,615.5 40.5,624.5 60.5,634.5 80.5,646.5 100.5,661.5 120.5,677.5 132.5,685.5 144.5,688.5 156.5,691 168.5,688.5 184.5,685.5 200.5,683.5 212.5,682 220.5,682 232.5,683.2 244.5,684.5 254.5,684 264.5,679.5 280.5,669.5 292.5,658.5 304.5,645.5 316.5,632.5 328.5,623.5 340.5,617.5 348.5,613.5 356.5,610.5 372.5,608.1 384.5,606.1 392.5,603.5 404.5,602.1 414.5,599.9 422.5,599.9 432.5,602.9 444.5,607.5 456.5,614.1 468.5,621.5 480.5,629 488.5,632.2 498.5,635 510.5,633.5 522.5,631.2 532.5,628.2 544.5,623.5 556.5,617.5 568.5,611.5 576.5,608.1 588.5,605.1 596.5,602.5 606.5,601.9 616.5,603.1 624.5,605.5 636.5,608.9 648.5,614.9 660.5,619.5 668.5,623.2 676.5,624.2 684.5,626 700.5,628.2 712.5,627 728.5,625.5 740.5,625 752.5,621.5 764.5,619 776.5,615.1 788.5,611.5 800.5,607.5 812.5,601.9 824.5,598.1 836.5,595.9 844.5,593.9 856.5,593.9 868.5,595.9 880.5,597.1 892.5,598.9 904.5,600.5 920.5,601.1 932.5,601.1 944.5,599.9 956.5,598.5 968.5,597.1 984.5,596.5 1012.5,595.9 1028.5,596.1 1048.5,595.5 1068.5,592.1 1080.5,590.5 1088.5,587.9 1128.5,587.9 1136.5,589.5 1152.5,590.5 1176.5,592.1 1196.5,594.5 1208.5,598.5 1220.5,603.5 1232.5,611.5 1244.5,621.5 1256.5,633.5 1268.5,648.5 1280.5,664.5 1292.5,681.5 1304.5,696.5 1316.5,710.5 1328.5,722 1336.5,727 1348.5,731.5 1360.5,733.1 1372.5,731.5 1382.5,729.1 1388.5,726.5" fill="none" stroke="#f00" stroke-width="1" stroke-dasharray="3 3" shape-rendering="crispEdges"/>
<g shape-rendering="crispEdges">
<line x1="3" y1="783.5" x2="1655" y2="783.5" stroke="#c0c0c0" stroke-width="1" stroke-dasharray="3 3"/>
<line x1="3" y1="834.5" x2="1655" y2="834.5" stroke="#c0c0c0" stroke-width="1" stroke-dasharray="3 3"/>
<line x1="3" y1="895.5" x2="1655" y2="895.5" stroke="#c0c0c0" stroke-width="1" stroke-dasharray="3 3"/>
</g>
<polyline points="-3.5,847.5 4.5,849 12.5,832 20.5,836.5 28.5,838.5 36.5,842 44.5,842 52.5,850 60.5,860.5 68.5,867.5 76.5,871 84.5,872 92.5,874 100.5,865 108.5,867 116.5,860 124.5,862 132.5,857 140.5,861 148.5,863 156.5,847.5 164.5,843 172.5,844.5 180.5,859.5 188.5,863 196.5,863 204.5,861.5 212.5,871 220.5,861.5 228.5,870 236.5,855.5 244.5,845 252.5,825 260.5,822.5 268.5,817 276.5,816.5 284.5,814.5 292.5,808 300.5,825 308.5,825 316.5,830 324.5,823 332.5,830 340.5,826.5 348.5,822.5 356.5,815 364.5,822.5 372.5,817 380.5,816.5 388.5,818 396.5,816.5 404.5,816.5 412.5,826.5 420.5,846.5 428.5,850.5 436.5,855.5 444.5,841 452.5,850 460.5,840.5 468.5,833.5 476.5,840.5 484.5,836 492.5,826 500.5,819 508.5,827.5 516.5,834.5 524.5,827.5 532.5,818 540.5,823 548.5,820 556.5,821 564.5,817 572.5,815.5 580.5,820.5 588.5,829 596.5,834 604.5,844.5 612.5,843 620.5,837 628.5,833.5 636.5,831.5 644.5,841.5 652.5,835.5 660.5,829.5 668.5,834 676.5,838 684.5,835 692.5,839.5 700.5,825.5 708.5,822.5 716.5,824.5 724.5,820.5 732.5,836.5 740.5,827 748.5,821.5 756.5,819.5 764.5,818 772.5,818 780.5,810 788.5,808.5 796.5,808 804.5,811 812.5,811 820.5,811 828.5,809 836.5,821.5 844.5,822 852.5,828.5 860.5,826.5 868.5,820 876.5,810 884.5,808.5 892.5,807.5 900.5,804.5 908.5,811.5 916.5,821.5 924.5,817 932.5,810 940.5,815.5 948.5,803 956.5,799.5 964.5,801 972.5,806.5 980.5,812.5 988.5,822.5 996.5,821 1004.5,822.5 1012.5,825 1020.5,800.5 1028.5,798 1036.5,794.5 1044.5,804 1052.5,803 1060.5,806.5 1068.5,802 1076.5,807.5 1084.5,825 1092.5,812 1100.5,809 1108.5,813.5 1116.5,810 1124.5,809 1132.5,810 1140.5,816.5 1148.5,816.5 1156.5,812.5 1164.5,807 1172.5,803 1180.5,820.5 1188.5,827 1196.5,838.5 1204.5,837 1212.5,847.5 1220.5,854.5 1228.5,871 1236.5,871 1244.5,871 1252.5,881 1260.5,884 1268.5,889.5 1276.5,895 1284.5,891.5 1292.5,893 1300.5,893 1308.5,893 1316.5,886.5 1324.5,884.5 1332.5,888 1340.5,876.5 1348.5,865 1356.5,872 1364.5,874.9 1372.5,868.7 1380.5,860.1 1388.5,854.1" fill="none" stroke="#1088ff" stroke-width="1" shape-rendering="crispEdges"/>
<g shape-rendering="crispEdges">
<rect x="0" y="20" width="1656" height="1" fill="#000"/>
<rect x="1655" y="20" width="1" height="554" fill="#000"/>
<rect x="0" y="573" width="1656" height="1" fill="#000"/>
<rect x="0" y="575" width="1656" height="1" fill="#000"/>
<rect x="1655" y="575" width="1" height="171" fill="#000"/>
<rect x="0" y="745" width="1656" height="1" fill="#000"/>
<rect x="0" y="747" width="1656" height="1" fill="#000"/>
<rect x="1655" y="747" width="1" height="175" fill="#000"/>
<rect x="0" y="921" width="1656" height="1" fill="#000"/>
<rect x="1701" y="18" width="1" height="921" fill="#e4e4e4"/>
<rect x="1656" y="42" width="2" height="1" fill="#000"/>
<rect x="1656" y="75" width="2" height="1" fill="#000"/>
<rect x="1656" y="108" width="2" height="1" fill="#000"/>
<rect x="1656" y="141" width="2" height="1" fill="#000"/>
<rect x="1656" y="174" width="2" height="1" fill="#000"/>
<rect x="1656" y="207" width="2" height="1" fill="#000"/>
<rect x="1656" y="240" width="2" height="1" fill="#000"/>
<rect x="1656" y="273" width="2" height="1" fill="#000"/>
<rect x="1656" y="306" width="2" height="1" fill="#000"/>
<rect x="1656" y="339" width="2" height="1" fill="#000"/>
<rect x="1656" y="372" width="2" height="1" fill="#000"/>
<rect x="1656" y="405" width="2" height="1" fill="#000"/>
<rect x="1656" y="438" width="2" height="1" fill="#000"/>
<rect x="1656" y="471" width="2" height="1" fill="#000"/>
<rect x="1656" y="504" width="2" height="1" fill="#000"/>
<rect x="1656" y="537" width="2" height="1" fill="#000"/>
<rect x="1656" y="570" width="2" height="1" fill="#000"/>
<rect x="1656" y="577" width="2" height="1" fill="#000"/>
<rect x="1656" y="632" width="2" height="1" fill="#000"/>
<rect x="1656" y="738" width="2" height="1" fill="#000"/>
<rect x="1656" y="749" width="2" height="1" fill="#000"/>
<rect x="1656" y="783" width="2" height="1" fill="#000"/>
<rect x="1656" y="834" width="2" height="1" fill="#000"/>
<rect x="1656" y="895" width="2" height="1" fill="#000"/>
<rect x="1656" y="915" width="2" height="1" fill="#000"/>
<rect x="-4" y="921" width="1" height="4" fill="#000"/>
<rect x="60" y="921" width="1" height="4" fill="#000"/>
<rect x="124" y="921" width="1" height="4" fill="#000"/>
<rect x="188" y="921" width="1" height="4" fill="#000"/>
<rect x="252" y="921" width="1" height="4" fill="#000"/>
<rect x="316" y="921" width="1" height="4" fill="#000"/>
<rect x="380" y="921" width="1" height="4" fill="#000"/>
<rect x="444" y="921" width="1" height="4" fill="#000"/>
<rect x="508" y="921" width="1" height="4" fill="#000"/>
<rect x="572" y="921" width="1" height="4" fill="#000"/>
<rect x="636" y="921" width="1" height="4" fill="#000"/>
<rect x="700" y="921" width="1" height="4" fill="#000"/>
<rect x="764" y="921" width="1" height="4" fill="#000"/>
<rect x="828" y="921" width="1" height="4" fill="#000"/>
<rect x="892" y="921" width="1" height="4" fill="#000"/>
<rect x="956" y="921" width="1" height="4" fill="#000"/>
<rect x="1020" y="921" width="1" height="4" fill="#000"/>
<rect x="1084" y="921" width="1" height="4" fill="#000"/>
<rect x="1148" y="921" width="1" height="4" fill="#000"/>
<rect x="1212" y="921" width="1" height="4" fill="#000"/>
<rect x="1276" y="921" width="1" height="4" fill="#000"/>
<rect x="1340" y="921" width="1" height="4" fill="#000"/>
</g>
<text x="1661" y="45.8" font-size="9.6" fill="#000" text-anchor="start" font-weight="normal" stroke="#000" stroke-width=".25" xml:space="preserve" textLength="32.53" lengthAdjust="spacingAndGlyphs">28367.0</text>
<text x="1661" y="78.8" font-size="9.6" fill="#000" text-anchor="start" font-weight="normal" stroke="#000" stroke-width=".25" xml:space="preserve" textLength="32.53" lengthAdjust="spacingAndGlyphs">28187.0</text>
<text x="1661" y="111.8" font-size="9.6" fill="#000" text-anchor="start" font-weight="normal" stroke="#000" stroke-width=".25" xml:space="preserve" textLength="32.53" lengthAdjust="spacingAndGlyphs">28002.0</text>
<text x="1661" y="144.8" font-size="9.6" fill="#000" text-anchor="start" font-weight="normal" stroke="#000" stroke-width=".25" xml:space="preserve" textLength="32.53" lengthAdjust="spacingAndGlyphs">27822.0</text>
<text x="1661" y="177.8" font-size="9.6" fill="#000" text-anchor="start" font-weight="normal" stroke="#000" stroke-width=".25" xml:space="preserve" textLength="32.53" lengthAdjust="spacingAndGlyphs">27642.0</text>
<text x="1661" y="210.8" font-size="9.6" fill="#000" text-anchor="start" font-weight="normal" stroke="#000" stroke-width=".25" xml:space="preserve" textLength="32.53" lengthAdjust="spacingAndGlyphs">27462.0</text>
<text x="1661" y="243.8" font-size="9.6" fill="#000" text-anchor="start" font-weight="normal" stroke="#000" stroke-width=".25" xml:space="preserve" textLength="32.53" lengthAdjust="spacingAndGlyphs">27277.0</text>
<text x="1661" y="276.8" font-size="9.6" fill="#000" text-anchor="start" font-weight="normal" stroke="#000" stroke-width=".25" xml:space="preserve" textLength="32.53" lengthAdjust="spacingAndGlyphs">27097.0</text>
<text x="1661" y="309.8" font-size="9.6" fill="#000" text-anchor="start" font-weight="normal" stroke="#000" stroke-width=".25" xml:space="preserve" textLength="32.53" lengthAdjust="spacingAndGlyphs">26917.0</text>
<text x="1661" y="342.8" font-size="9.6" fill="#000" text-anchor="start" font-weight="normal" stroke="#000" stroke-width=".25" xml:space="preserve" textLength="32.53" lengthAdjust="spacingAndGlyphs">26737.0</text>
<text x="1661" y="375.8" font-size="9.6" fill="#000" text-anchor="start" font-weight="normal" stroke="#000" stroke-width=".25" xml:space="preserve" textLength="32.53" lengthAdjust="spacingAndGlyphs">26552.0</text>
<text x="1661" y="408.8" font-size="9.6" fill="#000" text-anchor="start" font-weight="normal" stroke="#000" stroke-width=".25" xml:space="preserve" textLength="32.53" lengthAdjust="spacingAndGlyphs">26372.0</text>
<text x="1661" y="441.8" font-size="9.6" fill="#000" text-anchor="start" font-weight="normal" stroke="#000" stroke-width=".25" xml:space="preserve" textLength="32.53" lengthAdjust="spacingAndGlyphs">26192.0</text>
<text x="1661" y="474.8" font-size="9.6" fill="#000" text-anchor="start" font-weight="normal" stroke="#000" stroke-width=".25" xml:space="preserve" textLength="32.53" lengthAdjust="spacingAndGlyphs">26007.0</text>
<text x="1661" y="507.8" font-size="9.6" fill="#000" text-anchor="start" font-weight="normal" stroke="#000" stroke-width=".25" xml:space="preserve" textLength="32.53" lengthAdjust="spacingAndGlyphs">25827.0</text>
<text x="1661" y="540.8" font-size="9.6" fill="#000" text-anchor="start" font-weight="normal" stroke="#000" stroke-width=".25" xml:space="preserve" textLength="32.53" lengthAdjust="spacingAndGlyphs">25647.0</text>
<text x="1661" y="573.8" font-size="9.6" fill="#000" text-anchor="start" font-weight="normal" stroke="#000" stroke-width=".25" xml:space="preserve" textLength="32.53" lengthAdjust="spacingAndGlyphs">25467.0</text>
<text x="1659" y="586" font-size="9.6" fill="#000" text-anchor="start" font-weight="normal" stroke="#000" stroke-width=".25" xml:space="preserve" textLength="27.52" lengthAdjust="spacingAndGlyphs">216.31</text>
<text x="1659" y="635.8" font-size="9.6" fill="#000" text-anchor="start" font-weight="normal" stroke="#000" stroke-width=".25" xml:space="preserve" textLength="17.51" lengthAdjust="spacingAndGlyphs">0.00</text>
<text x="1659" y="741.8" font-size="9.6" fill="#000" text-anchor="start" font-weight="normal" stroke="#000" stroke-width=".25" xml:space="preserve" textLength="30.52" lengthAdjust="spacingAndGlyphs">-442.76</text>
<text x="1659" y="758.3" font-size="9.6" fill="#000" text-anchor="start" font-weight="normal" stroke="#000" stroke-width=".25" xml:space="preserve" textLength="15.01" lengthAdjust="spacingAndGlyphs">100</text>
<text x="1659" y="786.8" font-size="9.6" fill="#000" text-anchor="start" font-weight="normal" stroke="#000" stroke-width=".25" xml:space="preserve" textLength="10.01" lengthAdjust="spacingAndGlyphs">80</text>
<text x="1659" y="837.8" font-size="9.6" fill="#000" text-anchor="start" font-weight="normal" stroke="#000" stroke-width=".25" xml:space="preserve" textLength="10.01" lengthAdjust="spacingAndGlyphs">50</text>
<text x="1659" y="898.8" font-size="9.6" fill="#000" text-anchor="start" font-weight="normal" stroke="#000" stroke-width=".25" xml:space="preserve" textLength="10.01" lengthAdjust="spacingAndGlyphs">15</text>
<text x="1659" y="918.3" font-size="9.6" fill="#000" text-anchor="start" font-weight="normal" stroke="#000" stroke-width=".25" xml:space="preserve" textLength="5.00" lengthAdjust="spacingAndGlyphs">0</text>
<g shape-rendering="crispEdges">
<rect x="1657" y="305" width="41" height="11" fill="#f00"/>
<rect x="1657" y="340" width="41" height="11" fill="#f00"/>
<rect x="1657" y="373" width="41" height="11" fill="#000"/>
</g>
<text x="1661" y="381.7" font-size="9.6" fill="#fff" text-anchor="start" font-weight="normal" stroke="#fff" stroke-width=".25" xml:space="preserve" textLength="32.53" lengthAdjust="spacingAndGlyphs">26522.5</text>
<g shape-rendering="crispEdges">
<rect x="1657" y="379" width="41" height="11" fill="#32cd32"/>
<rect x="1657" y="415" width="41" height="11" fill="#00f"/>
<rect x="1657" y="448" width="41" height="11" fill="#00f"/>
</g>
<text x="1661" y="313.8" font-size="9.6" fill="#fff" text-anchor="start" font-weight="normal" stroke="#fff" stroke-width=".25" xml:space="preserve" textLength="32.53" lengthAdjust="spacingAndGlyphs">26888.7</text>
<text x="1661" y="348.8" font-size="9.6" fill="#fff" text-anchor="start" font-weight="normal" stroke="#fff" stroke-width=".25" xml:space="preserve" textLength="32.53" lengthAdjust="spacingAndGlyphs">26696.8</text>
<text x="1661" y="387.8" font-size="9.6" fill="#fff" text-anchor="start" font-weight="normal" stroke="#fff" stroke-width=".25" xml:space="preserve" textLength="32.53" lengthAdjust="spacingAndGlyphs">26482.9</text>
<text x="1661" y="423.8" font-size="9.6" fill="#fff" text-anchor="start" font-weight="normal" stroke="#fff" stroke-width=".25" xml:space="preserve" textLength="32.53" lengthAdjust="spacingAndGlyphs">26285.5</text>
<text x="1661" y="456.8" font-size="9.6" fill="#fff" text-anchor="start" font-weight="normal" stroke="#fff" stroke-width=".25" xml:space="preserve" textLength="32.53" lengthAdjust="spacingAndGlyphs">26104.6</text>
<text x="-5" y="934.3" font-size="9.6" fill="#000" text-anchor="start" font-weight="normal" stroke="#000" stroke-width=".25" xml:space="preserve" textLength="49.48" lengthAdjust="spacingAndGlyphs">6 May 2022</text>
<text x="59" y="934.3" font-size="9.6" fill="#000" text-anchor="start" font-weight="normal" stroke="#000" stroke-width=".25" xml:space="preserve" textLength="52.11" lengthAdjust="spacingAndGlyphs">9 May 00:00</text>
<text x="123" y="934.3" font-size="9.6" fill="#000" text-anchor="start" font-weight="normal" stroke="#000" stroke-width=".25" xml:space="preserve" textLength="57.38" lengthAdjust="spacingAndGlyphs">10 May 10:55</text>
<text x="187" y="934.3" font-size="9.6" fill="#000" text-anchor="start" font-weight="normal" stroke="#000" stroke-width=".25" xml:space="preserve" textLength="56.68" lengthAdjust="spacingAndGlyphs">11 May 18:55</text>
<text x="251" y="934.3" font-size="9.6" fill="#000" text-anchor="start" font-weight="normal" stroke="#000" stroke-width=".25" xml:space="preserve" textLength="57.38" lengthAdjust="spacingAndGlyphs">13 May 00:00</text>
<text x="315" y="934.3" font-size="9.6" fill="#000" text-anchor="start" font-weight="normal" stroke="#000" stroke-width=".25" xml:space="preserve" textLength="57.38" lengthAdjust="spacingAndGlyphs">16 May 10:55</text>
<text x="379" y="934.3" font-size="9.6" fill="#000" text-anchor="start" font-weight="normal" stroke="#000" stroke-width=".25" xml:space="preserve" textLength="57.38" lengthAdjust="spacingAndGlyphs">17 May 18:55</text>
<text x="443" y="934.3" font-size="9.6" fill="#000" text-anchor="start" font-weight="normal" stroke="#000" stroke-width=".25" xml:space="preserve" textLength="57.38" lengthAdjust="spacingAndGlyphs">19 May 00:00</text>
<text x="507" y="934.3" font-size="9.6" fill="#000" text-anchor="start" font-weight="normal" stroke="#000" stroke-width=".25" xml:space="preserve" textLength="57.38" lengthAdjust="spacingAndGlyphs">20 May 10:55</text>
<text x="571" y="934.3" font-size="9.6" fill="#000" text-anchor="start" font-weight="normal" stroke="#000" stroke-width=".25" xml:space="preserve" textLength="57.38" lengthAdjust="spacingAndGlyphs">23 May 18:55</text>
<text x="635" y="934.3" font-size="9.6" fill="#000" text-anchor="start" font-weight="normal" stroke="#000" stroke-width=".25" xml:space="preserve" textLength="57.38" lengthAdjust="spacingAndGlyphs">25 May 00:00</text>
<text x="699" y="934.3" font-size="9.6" fill="#000" text-anchor="start" font-weight="normal" stroke="#000" stroke-width=".25" xml:space="preserve" textLength="57.38" lengthAdjust="spacingAndGlyphs">26 May 10:55</text>
<text x="763" y="934.3" font-size="9.6" fill="#000" text-anchor="start" font-weight="normal" stroke="#000" stroke-width=".25" xml:space="preserve" textLength="57.38" lengthAdjust="spacingAndGlyphs">27 May 18:55</text>
<text x="827" y="934.3" font-size="9.6" fill="#000" text-anchor="start" font-weight="normal" stroke="#000" stroke-width=".25" xml:space="preserve" textLength="57.38" lengthAdjust="spacingAndGlyphs">31 May 00:00</text>
<text x="891" y="934.3" font-size="9.6" fill="#000" text-anchor="start" font-weight="normal" stroke="#000" stroke-width=".25" xml:space="preserve" textLength="47.61" lengthAdjust="spacingAndGlyphs">1 Jun 10:55</text>
<text x="955" y="934.3" font-size="9.6" fill="#000" text-anchor="start" font-weight="normal" stroke="#000" stroke-width=".25" xml:space="preserve" textLength="47.61" lengthAdjust="spacingAndGlyphs">2 Jun 18:55</text>
<text x="1019" y="934.3" font-size="9.6" fill="#000" text-anchor="start" font-weight="normal" stroke="#000" stroke-width=".25" xml:space="preserve" textLength="47.61" lengthAdjust="spacingAndGlyphs">6 Jun 00:00</text>
<text x="1083" y="934.3" font-size="9.6" fill="#000" text-anchor="start" font-weight="normal" stroke="#000" stroke-width=".25" xml:space="preserve" textLength="47.61" lengthAdjust="spacingAndGlyphs">7 Jun 09:00</text>
<text x="1147" y="934.3" font-size="9.6" fill="#000" text-anchor="start" font-weight="normal" stroke="#000" stroke-width=".25" xml:space="preserve" textLength="47.61" lengthAdjust="spacingAndGlyphs">8 Jun 18:55</text>
<text x="1211" y="934.3" font-size="9.6" fill="#000" text-anchor="start" font-weight="normal" stroke="#000" stroke-width=".25" xml:space="preserve" textLength="52.68" lengthAdjust="spacingAndGlyphs">10 Jun 00:00</text>
<text x="1275" y="934.3" font-size="9.6" fill="#000" text-anchor="start" font-weight="normal" stroke="#000" stroke-width=".25" xml:space="preserve" textLength="52.68" lengthAdjust="spacingAndGlyphs">13 Jun 10:55</text>
<text x="1339" y="934.3" font-size="9.6" fill="#000" text-anchor="start" font-weight="normal" stroke="#000" stroke-width=".25" xml:space="preserve" textLength="52.68" lengthAdjust="spacingAndGlyphs">14 Jun 18:55</text>
<text x="11" y="32" font-size="9.7" fill="#000" text-anchor="start" font-weight="normal" stroke="#000" stroke-width=".25" xml:space="preserve" textLength="196.96" lengthAdjust="spacingAndGlyphs">JPN225-,H4  26432.5 26625.0 26362.5 26522.5</text>
<polygon points="0,31 3,27 6.5,31" fill="#000"/>
<text x="1" y="587.7" font-size="9.7" fill="#000" text-anchor="start" font-weight="normal" stroke="#000" stroke-width=".25" xml:space="preserve" textLength="132.85" lengthAdjust="spacingAndGlyphs">MACD(12,26,9) -304.55 -368.74</text>
<text x="1" y="759.7" font-size="9.7" fill="#000" text-anchor="start" font-weight="normal" stroke="#000" stroke-width=".25" xml:space="preserve" textLength="67.14" lengthAdjust="spacingAndGlyphs">RSI(14) 39.3189</text>
<polygon points="1400,21 1409,21 1404.5,26" fill="#b8b8b8"/></svg>
<div id="tb"><svg width="1702" height="16" viewBox="0 0 1702 16" style="position:absolute;left:0;top:0">
<circle cx="1" cy="1" r="4.5" fill="#d8ecfb" stroke="#7fb2e0"/><path d="M3 6L7.5 12" stroke="#d9a82a" stroke-width="2.2" stroke-linecap="round"/>
<rect x="16" y="0" width="1" height="13.5" fill="#a6a6a6"/>
<rect x="21.3" y="4.3" width="2.4" height="2.4" fill="#f0f0f0" stroke="#333" stroke-width=".8" transform="rotate(45 22.5 5.5)"/>
<rect x="26.5" y="-2" width="11" height="11" fill="#fff" stroke="#888"/><path d="M29 3H35M29 5.5H33" stroke="#999" stroke-width=".8"/>
<path d="M36.3 2.5V13.5M30.8 8H41.8" stroke="#1fa51f" stroke-width="3.4"/><path d="M36.3 3V13M31.3 8H41.3" stroke="#3fe03f" stroke-width="1.6"/>
<polygon points="93,3.5 103,-3 109,3.5 100.5,10.5" fill="#ecc040" stroke="#b07a12" stroke-width=".8"/><polygon points="93,3.5 100.5,10.5 109,3.5 109,5 100.5,12 93,5.2" fill="#a06a10"/>
<rect x="124" y="-2" width="10" height="8" fill="#3a7fe0"/><rect x="127" y="-2" width="4" height="5" fill="#cfe4ff"/><path d="M122 10.5a3 3 0 0 1 1-5.5a4 4 0 0 1 7.5-.5a3.2 3.2 0 0 1 5.5 3a2.5 2.5 0 0 1-1 3.5z" fill="#e9f0fa" stroke="#7d9ccc" stroke-width=".8"/>
<path d="M157.5 11.5A9.5 9.5 0 0 0 165.5 -3L161.5 -3A6 6 0 0 1 159 7.5L159 3.5L156 3.5L156 11.3Z" fill="#4aa84a" stroke="#2e8a2e" stroke-width=".5"/><circle cx="157.3" cy="2.8" r="1.7" fill="#2a5fd0"/><path d="M153 8a6 6 0 0 1 0-10.5M150.3 10a9.5 9.5 0 0 1 0-14.5" stroke="#6f9be0" stroke-width="1" fill="none"/>
<ellipse cx="183.5" cy="0.5" rx="6.5" ry="2.2" fill="#4a9be8" stroke="#2a6cc0" stroke-width=".8"/><polygon points="177,2.5 190,2.5 189,8 184,11.5 180,9" fill="#f2d23a" stroke="#c9a21a" stroke-width=".6"/><circle cx="188.5" cy="8" r="4" fill="#d82020"/><rect x="187" y="6.5" width="3" height="3" fill="#fff"/>
<rect x="252" y="0" width="1" height="16" fill="#a6a6a6"/>
<rect x="256" y="0" width="3" height="1" fill="#a8a8a8" shape-rendering="crispEdges"/>
<rect x="256" y="2" width="3" height="1" fill="#a8a8a8" shape-rendering="crispEdges"/>
<rect x="256" y="4" width="3" height="1" fill="#a8a8a8" shape-rendering="crispEdges"/>
<rect x="256" y="6" width="3" height="1" fill="#a8a8a8" shape-rendering="crispEdges"/>
<rect x="256" y="8" width="3" height="1" fill="#a8a8a8" shape-rendering="crispEdges"/>
<rect x="256" y="10" width="3" height="1" fill="#a8a8a8" shape-rendering="crispEdges"/>
<rect x="256" y="12" width="3" height="1" fill="#a8a8a8" shape-rendering="crispEdges"/>
<path d="M271.0 0V11.5M268.5 9.7H281.5M279.5 8.2L281.5 9.7L279.5 11.2" stroke="#444" stroke-width="1" fill="none"/>
<path d="M274.5 6.5H276.5V0.5H279" stroke="#1a9a1a" stroke-width="1.3" fill="none"/>
<rect x="290" y="0" width="25" height="13.5" fill="#f7f7f7"/><rect x="290" y="0" width="1" height="13.5" fill="#9a9a9a"/>
<path d="M299.0 0V11.5M296.5 9.7H309.5M307.5 8.2L309.5 9.7L307.5 11.2" stroke="#444" stroke-width="1" fill="none"/>
<rect x="302.5" y="-1" width="4.5" height="7" fill="#22b022" stroke="#148014" stroke-width=".6"/><path d="M304.7 6V8" stroke="#148014"/>
<path d="M326.5 0V11.5M324 9.7H337M335 8.2L337 9.7L335 11.2" stroke="#444" stroke-width="1" fill="none"/>
<path d="M325.5 6.5C328 3 330 0.5 332 1.5S335 5 336.5 5" stroke="#1a9a1a" stroke-width="1.2" fill="none"/>
<rect x="347" y="0" width="1" height="13.5" fill="#a6a6a6"/>
<path d="M366 6L371 11" stroke="#d9a82a" stroke-width="2.4" stroke-linecap="round"/><circle cx="362" cy="1.5" r="5.5" fill="#d4eafc" stroke="#6ea8e0" stroke-width="1"/>
<path d="M359 1.5H365" stroke="#2a6cb8" stroke-width="1.4"/>
<path d="M362 -1.5V4.5" stroke="#2a6cb8" stroke-width="1.4"/>
<path d="M394 6L399 11" stroke="#d9a82a" stroke-width="2.4" stroke-linecap="round"/><circle cx="390" cy="1.5" r="5.5" fill="#d4eafc" stroke="#6ea8e0" stroke-width="1"/>
<path d="M387 1.5H393" stroke="#2a6cb8" stroke-width="1.4"/>
<rect x="412" y="-1" width="7.5" height="4" fill="#3aa03a"/><rect x="420.5" y="-1" width="7.5" height="4" fill="#2a62d8"/><rect x="412" y="4.5" width="7.5" height="7" fill="#2a62d8"/><rect x="420.5" y="4.5" width="7.5" height="7" fill="#3aa03a"/>
<path d="M413.5 1.5H418M422 1.5H426.5M413.5 9H418M422 9H426.5" stroke="#e8f0ff" stroke-width="1"/>
<rect x="437" y="0" width="1" height="13.5" fill="#a6a6a6"/>
<rect x="442" y="0" width="25" height="13.5" fill="#f7f7f7"/><rect x="442" y="0" width="1" height="13.5" fill="#9a9a9a"/>
<path d="M450.5 0V11.5M448 9.7H461M459 8.2L461 9.7L459 11.2" stroke="#444" stroke-width="1" fill="none"/>
<polygon points="455,0 455,7 459.5,3.5" fill="#22c022" stroke="#148014" stroke-width=".5"/>
<rect x="470" y="0" width="25" height="13.5" fill="#f7f7f7"/><rect x="470" y="0" width="1" height="13.5" fill="#9a9a9a"/>
<path d="M478.5 0V11.5M476 9.7H489M487 8.2L489 9.7L487 11.2" stroke="#444" stroke-width="1" fill="none"/>
<path d="M484.5 0V8" stroke="#1a5fb0" stroke-width="1"/><path d="M485.5 3.5H490M487.5 1.5L485.5 3.5L487.5 5.5" stroke="#e04010" stroke-width="1" fill="none"/>
<rect x="499" y="0" width="1" height="13.5" fill="#a6a6a6"/>
<rect x="509.5" y="-2" width="11" height="11" fill="#fff" stroke="#888"/><path d="M511 2H514M511 4.5H513" stroke="#999" stroke-width=".8"/>
<path d="M519 2.5V13.5M513.5 8H524.5" stroke="#1fa51f" stroke-width="3.4"/><path d="M519 3V13M514 8H524" stroke="#3fe03f" stroke-width="1.6"/>
<polygon points="531,3 536.5,3 533.75,6.3" fill="#000"/>
<circle cx="555" cy="3.5" r="7" fill="#f4f8ff" stroke="#1e6fd0" stroke-width="2"/><path d="M555 -1V4H558" stroke="#444" stroke-width="1" fill="none"/>
<polygon points="570,3 575.5,3 572.75,6.3" fill="#000"/>
<rect x="586.5" y="-2" width="15" height="12.5" fill="#fff" stroke="#4a86d8"/><path d="M586.5 5H601.5" stroke="#4a86d8" stroke-width=".8"/><path d="M589 3L592 1.5L595 2L598 1L600 0.5" stroke="#b03010" stroke-width="1" fill="none"/><path d="M589 8.5L592 7.5L594 8L597 6L599.5 8" stroke="#1a9a1a" stroke-width="1" fill="none"/>
<polygon points="609,3 614.5,3 611.75,6.3" fill="#000"/>
<rect x="621" y="0" width="1" height="16" fill="#a6a6a6"/>
<rect x="624" y="0" width="3" height="1" fill="#a8a8a8" shape-rendering="crispEdges"/>
<rect x="624" y="2" width="3" height="1" fill="#a8a8a8" shape-rendering="crispEdges"/>
<rect x="624" y="4" width="3" height="1" fill="#a8a8a8" shape-rendering="crispEdges"/>
<rect x="624" y="6" width="3" height="1" fill="#a8a8a8" shape-rendering="crispEdges"/>
<rect x="624" y="8" width="3" height="1" fill="#a8a8a8" shape-rendering="crispEdges"/>
<rect x="624" y="10" width="3" height="1" fill="#a8a8a8" shape-rendering="crispEdges"/>
<rect x="624" y="12" width="3" height="1" fill="#a8a8a8" shape-rendering="crispEdges"/>
<rect x="630" y="0" width="25" height="13.5" fill="#f7f7f7"/><rect x="630" y="0" width="1" height="13.5" fill="#9a9a9a"/>
<polygon points="638.5,-3 638.5,6.5 641,4.5 643.5,10.5 645.5,9.5 643,4 646.5,4" fill="#4a4a4a"/>
<path d="M663 4.5H669M672 4.5H678M670.5 0V3M670.5 6V12" stroke="#444" stroke-width="1"/>
<rect x="687" y="0" width="1" height="13.5" fill="#a6a6a6"/>
<path d="M704.5 0V11" stroke="#444"/><path d="M727 4.5H739" stroke="#444"/><path d="M755 11L766.5 -0.5" stroke="#444"/>
<path d="M781 8L790 -1M784 10L795 -1M782 5.5H790M785 2.5H793M784 8L786 0M788 8L790 0" stroke="#555" stroke-width=".9" fill="none"/>
<text x="792" y="12.8" font-size="6.5" font-weight="bold" fill="#333" font-family="Liberation Sans, sans-serif">E</text>
<path d="M810 0.5H823M810 4.5H823M810 8.5H819" stroke="#555" stroke-width="1" stroke-dasharray="1 1"/>
<text x="820" y="12.8" font-size="6.5" font-weight="bold" fill="#333" font-family="Liberation Sans, sans-serif">F</text>
<text x="840.3" y="8.5" font-size="13" fill="#555" stroke="#555" stroke-width=".4" font-family="Liberation Sans, sans-serif">A</text>
<rect x="867.5" y="-2" width="11" height="12.5" fill="none" stroke="#555" stroke-dasharray="1 1"/>
<text x="869" y="8.5" font-size="11.5" fill="#555" stroke="#555" stroke-width=".4" font-family="Liberation Sans, sans-serif">T</text>
<path d="M896.5 4L899.5 7L904 1" stroke="#444" stroke-width="1.3" fill="none"/><polygon points="894,0 897,-2.5 900,0 897,2" fill="#444"/><polygon points="901,8 904.5,5.5 908,8 904.5,10.5" fill="#444"/>
<polygon points="915,3 920.5,3 917.75,6.3" fill="#000"/>
<rect x="927" y="0" width="1" height="16" fill="#a6a6a6"/>
<rect x="930" y="0" width="3" height="1" fill="#a8a8a8" shape-rendering="crispEdges"/>
<rect x="930" y="2" width="3" height="1" fill="#a8a8a8" shape-rendering="crispEdges"/>
<rect x="930" y="4" width="3" height="1" fill="#a8a8a8" shape-rendering="crispEdges"/>
<rect x="930" y="6" width="3" height="1" fill="#a8a8a8" shape-rendering="crispEdges"/>
<rect x="930" y="8" width="3" height="1" fill="#a8a8a8" shape-rendering="crispEdges"/>
<rect x="930" y="10" width="3" height="1" fill="#a8a8a8" shape-rendering="crispEdges"/>
<rect x="930" y="12" width="3" height="1" fill="#a8a8a8" shape-rendering="crispEdges"/>
<rect x="1187" y="0" width="1" height="16" fill="#a6a6a6"/>
<circle cx="1657.5" cy="-0.5" r="4.3" fill="#f4f8ff" stroke="#2a5bd7" stroke-width="1.2"/><path d="M1654.5 4.5L1650.5 8.5" stroke="#2a5bd7" stroke-width="2.2" stroke-linecap="round"/>
<path d="M1674.5 4a5 4 0 0 1 5-3.5h3a5 4 0 0 1 0 9h-3l-3 3v-3.5a5 4 0 0 1-2-5z" fill="#e2e4ea" stroke="#b8bcc8" stroke-width=".8"/>
<circle cx="1688.5" cy="0.8" r="8" fill="#d8301c"/>
<text x="1688.5" y="5.8" font-size="13" fill="#fff" text-anchor="middle" font-family="Liberation Serif, serif">1</text>
</svg><span class="t" style="left:941.5px">M1</span><span class="t" style="left:969px">M5</span><span class="t" style="left:995.5px">M15</span><span class="t" style="left:1023.5px">M30</span><span class="t" style="left:1054.5px">H1</span><i style="left:1076px;top:0;width:25px;height:13.5px;background:#f7f7f7;border-left:1px solid #9a9a9a"></i><span class="t" style="left:1081.5px">H4</span><span class="t" style="left:1110.5px">D1</span><span class="t" style="left:1138px">W1</span><span class="t" style="left:1165px">MN</span><span class="c" style="left:45px">新订单</span><span class="c" style="left:197.5px">自动交易</span></div><div id="tb2"></div>
<div id="oc">
<div class="r" style="left:0;top:0;width:51px;height:24px;border-right:1px solid #c41c1c"></div>
<div class="r" style="left:166px;top:0;width:52px;height:24px;border-left:1px solid #c41c1c;border-right:1px solid #c41c1c"></div>
<div class="p" style="left:0;top:24px;width:108px;height:33px;border-right:1px solid #a80808"></div>
<div class="p" style="left:110px;top:24px;width:108px;height:33px;border-left:1px solid #a80808;border-right:1px solid #a80808"></div>
<div style="left:3px;top:23px;width:44px;height:1px;background:#900000"></div>
<div style="left:3px;top:24px;width:44px;height:1px;background:#f49090"></div>
<div style="left:170px;top:23px;width:44px;height:1px;background:#900000"></div>
<div style="left:170px;top:24px;width:44px;height:1px;background:#f49090"></div>
<div style="left:11px;top:4.6px;font-size:12.4px;color:#fff;line-height:14px;transform:scaleX(.83);transform-origin:0 0">SELL</div>
<div style="left:179px;top:4.6px;font-size:12.4px;color:#fff;line-height:14px;transform:scaleX(.9);transform-origin:0 0">BUY</div>
<div style="left:53px;top:0;width:111px;height:22px;border:1px solid #a9adb8;box-sizing:border-box;background:#fff"></div>
<div style="left:54px;top:1px;width:20px;height:20px;background:linear-gradient(#f3f3f3 0,#e6e6e6 50%,#d6d6d6 50%,#cfcfcf 100%);border-right:1px solid #a9adb8;box-sizing:border-box"></div>
<div style="left:143px;top:1px;width:20px;height:20px;background:linear-gradient(#f3f3f3 0,#e6e6e6 50%,#d6d6d6 50%,#cfcfcf 100%);border-left:1px solid #a9adb8;box-sizing:border-box"></div>
<div style="left:61px;top:9.5px;width:0;height:0;border-left:2.5px solid transparent;border-right:2.5px solid transparent;border-top:3px solid #3c50b0"></div>
<div style="left:150.5px;top:8.5px;width:0;height:0;border-left:2.5px solid transparent;border-right:2.5px solid transparent;border-bottom:3px solid #3c50b0"></div>
<div style="left:80px;top:4px;width:59px;text-align:right;font-size:12px;line-height:14px;color:#222">1.00</div>
<div style="left:15.3px;top:41px;font-size:12.3px;font-weight:bold;color:#fff;line-height:14px">26521</div>
<div style="left:125.4px;top:41px;font-size:12.3px;font-weight:bold;color:#fff;line-height:14px">26544</div>
<div style="left:52.6px;top:22.4px;font-size:34px;color:#fff;line-height:36px;letter-spacing:-2px;transform:scaleX(.97);transform-origin:0 0">.0</div>
<div style="left:163.4px;top:22.4px;font-size:34px;color:#fff;line-height:36px;letter-spacing:-2px;transform:scaleX(.97);transform-origin:0 0">.0</div>
</div>

</body></html>
